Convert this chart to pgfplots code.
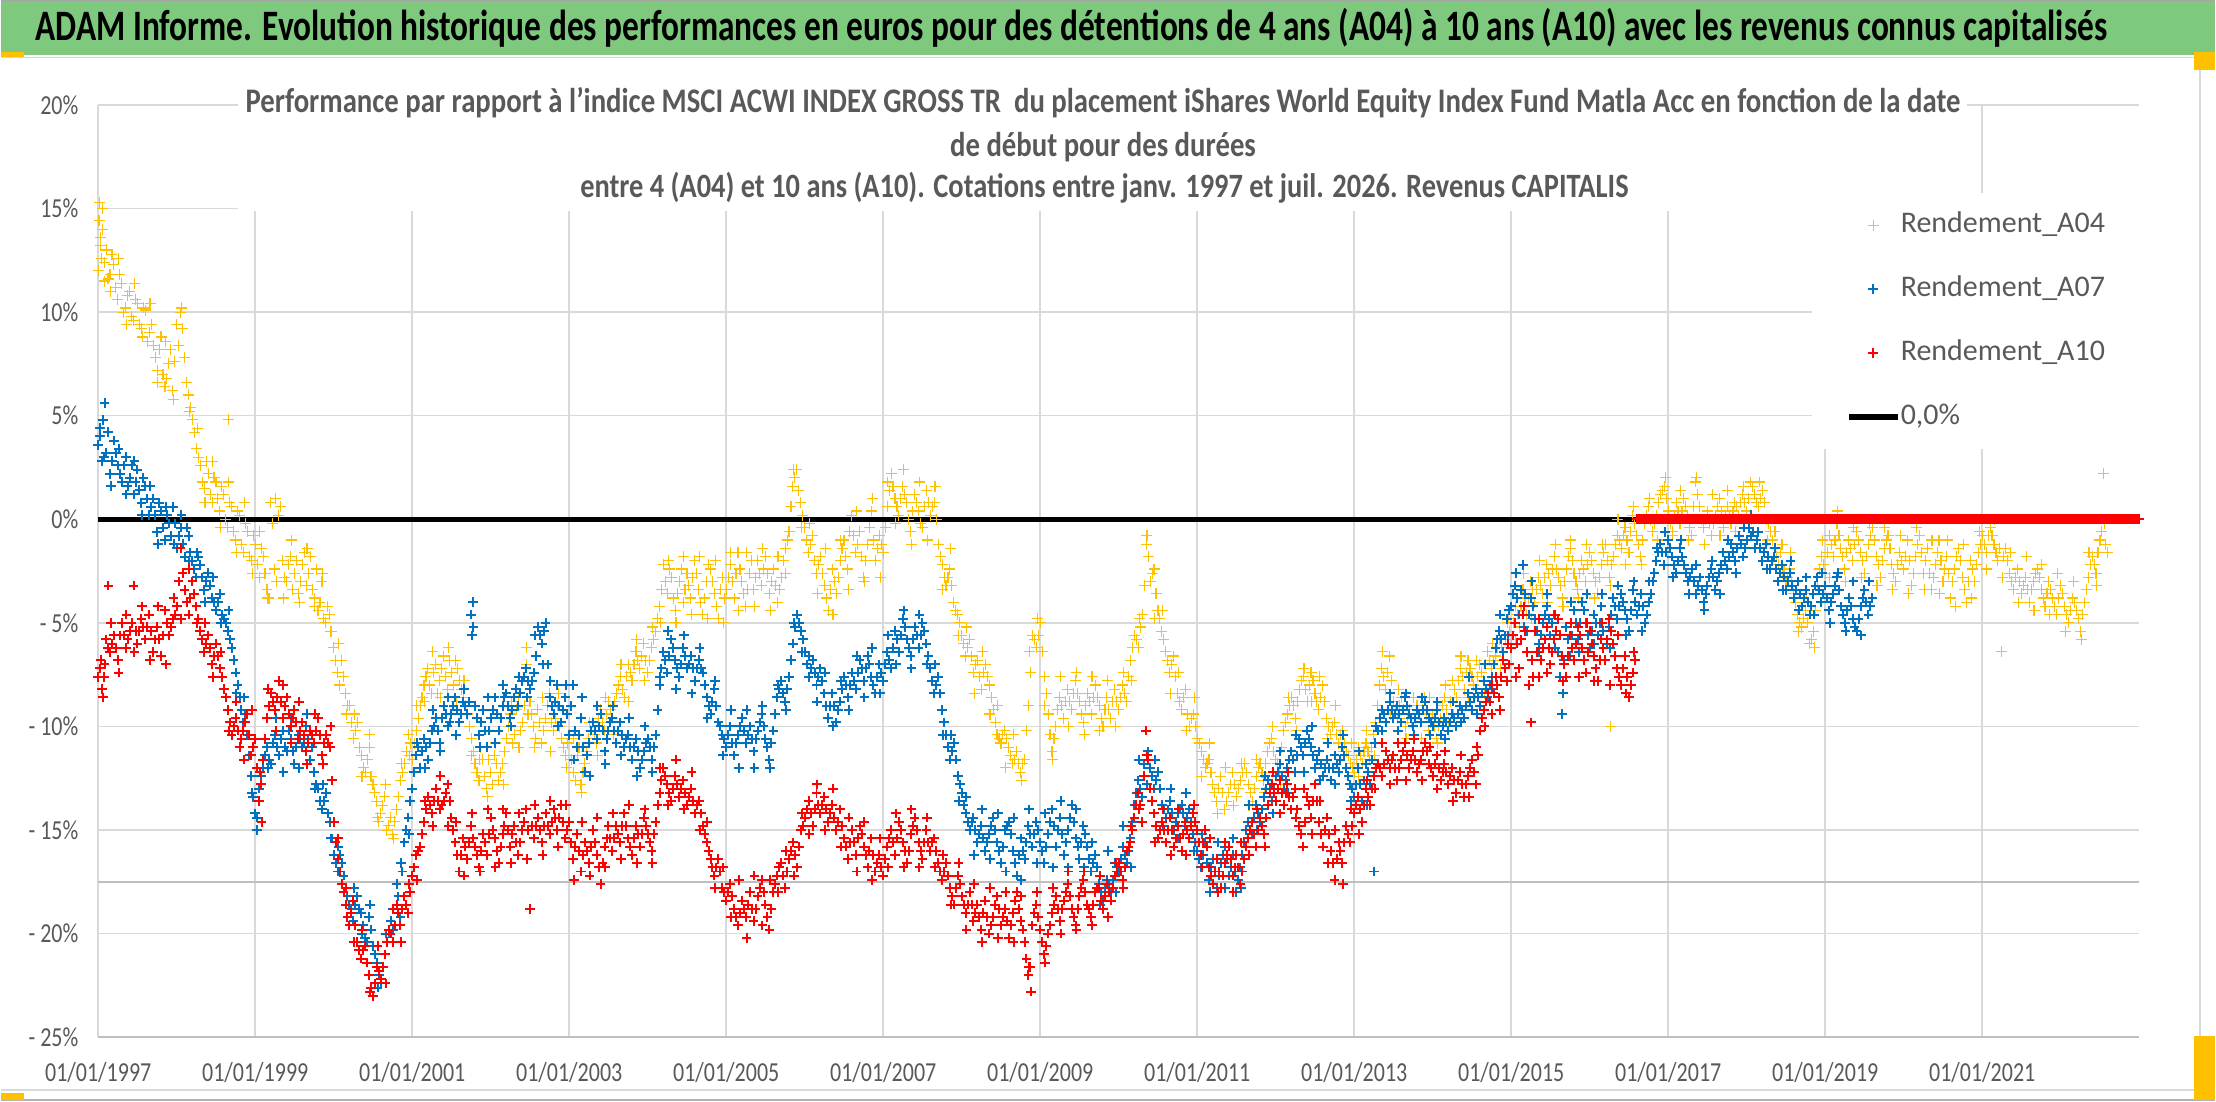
\documentclass[border=0pt]{standalone}
\usepackage{pgfplots}
\pgfplotsset{compat=1.18}
\usepackage{pgfplotstable}
\usepackage{graphicx}
\usepackage{fontspec}
\setmainfont{Carlito}
\definecolor{ygold}{HTML}{FFC000}
\definecolor{xblue}{HTML}{0070C0}
\definecolor{xred}{HTML}{FF0000}
\definecolor{txtgray}{HTML}{595959}
\definecolor{gridgray}{HTML}{D9D9D9}
\definecolor{axgray}{HTML}{BFBFBF}
\definecolor{banner}{HTML}{7EC97E}
\newcommand{\tl}[1]{\scalebox{1}[1.25]{#1}}

% t = years since 01/01/1997, y = performance in %
\pgfplotstableread[row sep=\\]{t y\\
0.00 12.0\\ 0.01 14.4\\ 0.02 15.3\\ 0.03 13.6\\ 0.04 12.6\\ 0.05 14.0\\ 0.08 11.5\\ 0.10 13.0\\ 0.15 11.8\\ 0.20 12.3\\
0.25 10.6\\ 0.30 11.4\\ 0.35 10.2\\ 0.40 11.0\\ 0.45 9.6\\ 0.50 10.4\\ 0.55 9.2\\ 0.60 10.1\\ 0.65 9.0\\ 0.70 8.4\\
0.75 7.2\\ 0.80 8.8\\ 0.85 6.4\\ 0.90 7.5\\ 0.95 6.2\\ 1.00 9.4\\ 1.05 10.0\\ 1.10 7.8\\ 1.15 6.0\\ 1.20 4.8\\
1.25 3.4\\ 1.30 2.6\\ 1.35 1.5\\ 1.40 2.2\\ 1.45 0.8\\ 1.50 1.8\\ 1.55 0.4\\ 1.60 1.2\\ 1.65 -0.4\\ 1.66 4.8\\
1.70 0.6\\ 1.75 -1.0\\ 1.80 0.2\\ 1.85 -1.6\\ 1.90 -0.6\\ 1.95 -2.0\\ 2.00 -1.2\\ 2.05 -2.8\\ 2.10 -1.8\\ 2.15 -3.4\\
2.20 0.8\\ 2.25 -2.4\\ 2.30 0.2\\ 2.35 -2.0\\ 2.40 -3.0\\ 2.45 -1.8\\ 2.50 -2.6\\ 2.55 -3.6\\ 2.60 -2.2\\ 2.65 -3.2\\
2.70 -1.8\\ 2.75 -3.8\\ 2.80 -4.4\\ 2.85 -3.0\\ 2.90 -5.0\\ 2.95 -4.6\\ 3.00 -6.2\\ 3.05 -7.4\\ 3.10 -6.8\\ 3.15 -8.4\\
3.20 -9.0\\ 3.25 -10.6\\ 3.30 -9.8\\ 3.35 -11.4\\ 3.40 -12.2\\ 3.45 -11.0\\ 3.50 -12.8\\ 3.55 -13.6\\ 3.60 -14.2\\ 3.65 -13.4\\
3.70 -14.8\\ 3.75 -15.2\\ 3.80 -14.0\\ 3.85 -12.6\\ 3.90 -11.8\\ 3.95 -10.4\\ 4.00 -11.6\\ 4.05 -10.2\\ 4.10 -9.0\\ 4.15 -8.0\\
4.20 -7.2\\ 4.25 -8.4\\ 4.30 -7.0\\ 4.35 -7.8\\ 4.40 -6.6\\ 4.45 -8.2\\ 4.50 -7.4\\ 4.55 -6.8\\ 4.60 -7.8\\ 4.65 -8.6\\
4.70 -9.4\\ 4.75 -10.6\\ 4.80 -11.8\\ 4.85 -12.6\\ 4.90 -11.6\\ 4.95 -13.0\\ 5.00 -12.2\\ 5.05 -11.4\\ 5.10 -12.6\\ 5.15 -11.8\\
5.20 -10.6\\ 5.25 -9.4\\ 5.30 -10.4\\ 5.35 -8.6\\ 5.40 -9.8\\ 5.45 -6.2\\ 5.50 -8.8\\ 5.55 -10.0\\ 5.60 -9.2\\ 5.65 -10.8\\
5.70 -9.6\\ 5.75 -8.4\\ 5.80 -10.2\\ 5.85 -9.0\\ 5.90 -10.6\\ 5.95 -11.4\\ 6.00 -10.4\\ 6.05 -12.2\\ 6.10 -11.4\\ 6.15 -12.8\\
6.20 -11.8\\ 6.25 -10.6\\ 6.30 -9.8\\ 6.35 -10.8\\ 6.40 -9.2\\ 6.45 -10.2\\ 6.50 -8.8\\ 6.55 -9.6\\ 6.60 -8.4\\ 6.65 -7.6\\
6.70 -8.6\\ 6.75 -7.0\\ 6.80 -7.8\\ 6.85 -6.4\\ 6.90 -7.2\\ 6.95 -6.0\\ 7.00 -7.4\\ 7.05 -6.2\\ 7.10 -5.4\\ 7.15 -4.2\\
7.20 -2.2\\ 7.25 -3.6\\ 7.30 -2.8\\ 7.35 -4.4\\ 7.40 -3.0\\ 7.45 -4.0\\ 7.50 -2.6\\ 7.55 -3.8\\ 7.60 -2.0\\ 7.65 -3.4\\
7.70 -4.6\\ 7.75 -3.0\\ 7.80 -2.4\\ 7.85 -3.6\\ 7.90 -4.8\\ 7.95 -2.8\\ 8.00 -3.4\\ 8.05 -2.2\\ 8.10 -3.8\\ 8.15 -1.6\\
8.20 -3.0\\ 8.25 -4.2\\ 8.30 -2.6\\ 8.35 -3.4\\ 8.40 -2.0\\ 8.45 -3.2\\ 8.50 -1.8\\ 8.55 -3.6\\ 8.60 -2.4\\ 8.65 -4.0\\
8.70 -2.8\\ 8.75 -1.4\\ 8.80 -0.6\\ 8.85 1.6\\ 8.90 2.4\\ 8.95 0.8\\ 9.00 -0.4\\ 9.05 -1.6\\ 9.10 -0.8\\ 9.15 -2.6\\
9.20 -1.8\\ 9.25 -3.2\\ 9.30 -4.4\\ 9.35 -2.4\\ 9.40 -3.6\\ 9.45 -2.0\\ 9.50 -1.0\\ 9.55 -2.4\\ 9.60 0.2\\ 9.65 -1.6\\
9.70 -0.6\\ 9.75 -2.8\\ 9.80 -1.2\\ 9.85 0.4\\ 9.90 -2.0\\ 9.95 -0.8\\ 10.00 -1.6\\ 10.05 0.6\\ 10.10 2.2\\ 10.15 1.0\\
10.20 0.2\\ 10.25 1.6\\ 10.30 0.8\\ 10.35 -0.6\\ 10.40 1.2\\ 10.45 0.4\\ 10.50 -0.4\\ 10.55 1.4\\ 10.60 0.2\\ 10.65 0.8\\
10.70 -1.2\\ 10.75 -2.2\\ 10.80 -3.2\\ 10.85 -2.4\\ 10.90 -4.0\\ 10.95 -4.6\\ 11.00 -5.6\\ 11.05 -6.6\\ 11.10 -5.8\\ 11.15 -7.4\\
11.20 -6.8\\ 11.25 -8.2\\ 11.30 -7.0\\ 11.35 -8.0\\ 11.40 -9.2\\ 11.45 -10.4\\ 11.50 -10.8\\ 11.55 -10.2\\ 11.60 -11.0\\ 11.65 -11.8\\
11.70 -11.2\\ 11.75 -12.2\\ 11.80 -11.6\\ 11.85 -9.0\\ 11.90 -5.6\\ 11.95 -6.2\\ 12.00 -5.0\\ 12.05 -7.6\\ 12.10 -9.4\\ 12.15 -11.2\\
12.20 -10.0\\ 12.25 -8.6\\ 12.30 -9.6\\ 12.35 -8.2\\ 12.40 -9.2\\ 12.45 -7.8\\ 12.50 -8.8\\ 12.55 -9.8\\ 12.60 -8.4\\ 12.65 -9.4\\
12.70 -8.0\\ 12.75 -9.0\\ 12.80 -10.0\\ 12.85 -8.6\\ 12.90 -9.6\\ 12.95 -8.2\\ 13.00 -9.2\\ 13.05 -8.0\\ 13.10 -8.8\\ 13.15 -6.8\\
13.20 -5.6\\ 13.25 -6.2\\ 13.30 -4.6\\ 13.35 -1.2\\ 13.40 -3.0\\ 13.45 -2.4\\ 13.50 -4.4\\ 13.55 -5.4\\ 13.60 -6.4\\ 13.65 -7.4\\
13.70 -6.6\\ 13.75 -8.4\\ 13.80 -9.2\\ 13.85 -8.2\\ 13.90 -10.0\\ 13.95 -9.4\\ 14.00 -10.6\\ 14.05 -11.2\\ 14.10 -12.0\\ 14.15 -11.6\\
14.20 -12.8\\ 14.25 -13.6\\ 14.30 -12.4\\ 14.35 -14.0\\ 14.40 -13.2\\ 14.45 -12.2\\ 14.50 -13.4\\ 14.55 -12.6\\ 14.60 -11.8\\ 14.65 -12.8\\
14.70 -13.6\\ 14.75 -12.4\\ 14.80 -11.8\\ 14.85 -12.6\\ 14.90 -11.2\\ 14.95 -10.6\\ 15.00 -11.6\\ 15.05 -12.2\\ 15.10 -10.2\\ 15.15 -9.4\\
15.20 -8.6\\ 15.25 -9.6\\ 15.30 -8.2\\ 15.35 -7.6\\ 15.40 -8.8\\ 15.45 -7.4\\ 15.50 -8.4\\ 15.55 -9.2\\ 15.60 -8.0\\ 15.65 -9.6\\
15.70 -10.4\\ 15.75 -9.8\\ 15.80 -10.8\\ 15.85 -10.2\\ 15.90 -11.2\\ 15.95 -11.8\\ 16.00 -12.2\\ 16.05 -11.0\\ 16.10 -11.8\\ 16.15 -10.8\\
16.20 -11.6\\ 16.25 -10.4\\ 16.30 -9.0\\ 16.35 -7.2\\ 16.40 -8.2\\ 16.45 -6.6\\ 16.50 -8.8\\ 16.55 -9.6\\ 16.60 -8.6\\ 16.65 -10.0\\
16.70 -9.2\\ 16.75 -10.4\\ 16.80 -9.0\\ 16.85 -9.8\\ 16.90 -8.6\\ 16.95 -10.2\\ 17.00 -9.4\\ 17.05 -10.6\\ 17.10 -9.6\\ 17.15 -8.6\\
17.20 -9.8\\ 17.25 -7.8\\ 17.30 -8.6\\ 17.35 -7.2\\ 17.40 -8.2\\ 17.45 -6.8\\ 17.50 -7.6\\ 17.55 -8.4\\ 17.60 -7.0\\ 17.65 -7.8\\
17.70 -6.4\\ 17.75 -7.2\\ 17.80 -6.6\\ 17.85 -5.8\\ 17.90 -6.8\\ 17.95 -5.0\\ 18.00 -5.8\\ 18.05 -4.2\\ 18.10 -5.2\\ 18.15 -3.4\\
18.20 -4.6\\ 18.25 -3.0\\ 18.30 -4.0\\ 18.35 -2.8\\ 18.40 -3.6\\ 18.45 -2.2\\ 18.50 -3.2\\ 18.55 -1.8\\ 18.60 -2.8\\ 18.65 -3.8\\
18.70 -2.4\\ 18.75 -1.4\\ 18.80 -2.6\\ 18.85 -3.4\\ 18.90 -2.0\\ 18.95 -3.0\\ 19.00 -1.6\\ 19.05 -2.6\\ 19.10 -3.6\\ 19.15 -2.2\\
19.20 -1.2\\ 19.25 -2.8\\ 19.26 -10.0\\ 19.30 -1.8\\ 19.35 -0.8\\ 19.40 -1.4\\ 19.45 -0.4\\ 19.50 -1.6\\ 19.55 0.2\\ 19.60 -0.8\\
19.65 -1.8\\ 19.70 -0.2\\ 19.75 0.6\\ 19.80 -0.6\\ 19.85 0.2\\ 19.90 1.2\\ 19.95 1.6\\ 20.00 0.4\\ 20.05 -0.6\\ 20.10 0.8\\
20.15 -0.2\\ 20.20 1.0\\ 20.25 0.2\\ 20.30 -0.8\\ 20.35 1.8\\ 20.40 0.6\\ 20.45 -0.4\\ 20.50 0.4\\ 20.55 -0.8\\ 20.60 0.2\\
20.65 1.0\\ 20.70 -0.4\\ 20.75 0.6\\ 20.80 -0.2\\ 20.85 0.8\\ 20.90 0.2\\ 20.95 1.2\\ 21.00 0.4\\ 21.05 1.8\\ 21.10 1.2\\
21.15 0.6\\ 21.20 1.4\\ 21.25 0.0\\ 21.30 -0.6\\ 21.35 -1.4\\ 21.40 -2.2\\ 21.45 -1.2\\ 21.50 -3.0\\ 21.55 -2.4\\ 21.60 -3.6\\
21.65 -4.6\\ 21.70 -5.2\\ 21.75 -4.4\\ 21.80 -6.0\\ 21.85 -5.4\\ 21.90 -3.2\\ 21.95 -1.8\\ 22.00 -2.6\\ 22.05 -0.8\\ 22.10 -1.8\\
22.15 -0.2\\ 22.20 -1.4\\ 22.25 -2.4\\ 22.30 -1.0\\ 22.35 -2.0\\ 22.40 -0.6\\ 22.45 -1.6\\ 22.50 -2.6\\ 22.55 -1.2\\ 22.60 -0.4\\
22.65 -1.8\\ 22.70 -2.8\\ 22.75 -1.4\\ 22.80 -0.8\\ 22.85 -2.2\\ 22.90 -3.0\\ 22.95 -1.6\\ 23.00 -2.4\\ 23.05 -1.0\\ 23.10 -3.2\\
23.15 -1.8\\ 23.20 -0.8\\ 23.25 -2.6\\ 23.30 -1.4\\ 23.35 -3.4\\ 23.40 -2.2\\ 23.45 -1.0\\ 23.50 -3.0\\ 23.55 -1.8\\ 23.60 -3.8\\
23.65 -2.4\\ 23.70 -1.4\\ 23.75 -2.8\\ 23.80 -4.0\\ 23.85 -2.0\\ 23.90 -3.0\\ 23.95 -1.6\\ 24.00 -0.8\\ 24.05 -1.6\\ 24.10 -0.4\\
24.15 -1.2\\ 24.20 -2.0\\ 24.25 -6.4\\ 24.30 -1.4\\ 24.35 -2.6\\ 24.40 -3.4\\ 24.45 -2.4\\ 24.50 -3.6\\ 24.55 -2.8\\ 24.60 -4.0\\
24.65 -3.0\\ 24.70 -2.4\\ 24.75 -3.4\\ 24.80 -4.2\\ 24.85 -3.0\\ 24.90 -3.8\\ 24.95 -4.6\\ 25.00 -3.2\\ 25.05 -4.2\\ 25.10 -5.0\\
25.15 -3.8\\ 25.20 -4.4\\ 25.25 -5.4\\ 25.30 -4.0\\ 25.35 -2.8\\ 25.40 -1.8\\ 25.45 -2.6\\ 25.50 -1.0\\ 25.55 2.2\\ 25.60 -1.6\\
0.025 13.2\\ 0.075 12.4\\ 0.125 11.6\\ 0.175 12.8\\ 0.225 11.2\\ 0.275 11.8\\ 0.325 10.0\\ 0.375 10.8\\ 0.425 9.8\\ 0.475 10.6\\
0.525 9.4\\ 0.575 10.2\\ 0.625 8.6\\ 0.675 9.4\\ 0.725 7.8\\ 0.775 8.2\\ 0.825 7.0\\ 0.875 6.8\\ 0.925 8.2\\ 0.975 7.6\\
1.025 8.4\\ 1.075 9.2\\ 1.125 6.6\\ 1.175 5.4\\ 1.225 4.2\\ 1.275 3.0\\ 1.325 1.8\\ 1.375 2.8\\ 1.425 1.2\\ 1.475 2.0\\
1.525 1.0\\ 1.575 1.6\\ 1.625 0.0\\ 1.675 0.8\\ 1.725 -0.6\\ 1.775 0.4\\ 1.825 -1.2\\ 1.875 -0.2\\ 1.925 -1.8\\ 1.975 -0.8\\
2.025 -2.2\\ 2.075 -1.4\\ 2.125 -2.6\\ 2.175 -3.8\\ 2.225 -0.2\\ 2.275 -3.0\\ 2.325 0.6\\ 2.375 -2.8\\ 2.425 -2.2\\ 2.475 -3.4\\
2.525 -2.0\\ 2.575 -3.0\\ 2.625 -1.6\\ 2.675 -2.6\\ 2.725 -3.4\\ 2.775 -2.4\\ 2.825 -4.0\\ 2.875 -4.8\\ 2.925 -4.2\\ 2.975 -5.4\\
3.025 -6.8\\ 3.075 -8.0\\ 3.125 -7.6\\ 3.175 -9.0\\ 3.225 -9.8\\ 3.275 -10.2\\ 3.325 -11.0\\ 3.375 -12.0\\ 3.425 -11.6\\ 3.475 -12.4\\
3.525 -13.2\\ 3.575 -14.6\\ 3.625 -13.8\\ 3.675 -15.0\\ 3.725 -14.4\\ 3.775 -14.6\\ 3.825 -13.4\\ 3.875 -12.2\\ 3.925 -11.2\\ 3.975 -10.8\\
4.025 -10.8\\ 4.075 -9.6\\ 4.125 -8.6\\ 4.175 -7.6\\ 4.225 -8.0\\ 4.275 -7.4\\ 4.325 -8.4\\ 4.375 -7.2\\ 4.425 -7.6\\ 4.475 -6.8\\
4.525 -8.0\\ 4.575 -7.2\\ 4.625 -8.2\\ 4.675 -9.0\\ 4.725 -10.0\\ 4.775 -11.2\\ 4.825 -12.2\\ 4.875 -11.0\\ 4.925 -12.4\\ 4.975 -11.6\\
5.025 -12.8\\ 5.075 -11.8\\ 5.125 -12.2\\ 5.175 -11.2\\ 5.225 -10.0\\ 5.275 -10.8\\ 5.325 -9.2\\ 5.375 -10.2\\ 5.425 -9.0\\ 5.475 -9.4\\
5.525 -9.4\\ 5.575 -10.6\\ 5.625 -9.8\\ 5.675 -10.2\\ 5.725 -9.0\\ 5.775 -9.8\\ 5.825 -9.6\\ 5.875 -10.0\\ 5.925 -11.0\\ 5.975 -10.8\\
6.025 -11.6\\ 6.075 -12.6\\ 6.125 -11.0\\ 6.175 -12.2\\ 6.225 -11.2\\ 6.275 -10.2\\ 6.325 -10.4\\ 6.375 -9.6\\ 6.425 -9.8\\ 6.475 -9.4\\
6.525 -9.2\\ 6.575 -8.8\\ 6.625 -8.0\\ 6.675 -8.2\\ 6.725 -7.6\\ 6.775 -7.4\\ 6.825 -7.0\\ 6.875 -6.8\\ 6.925 -6.6\\ 6.975 -6.8\\
7.025 -6.8\\ 7.075 -5.8\\ 7.125 -4.8\\ 7.175 -3.4\\ 7.225 -3.0\\ 7.275 -2.4\\ 7.325 -3.8\\ 7.375 -3.6\\ 7.425 -2.4\\ 7.475 -3.4\\
7.525 -3.2\\ 7.575 -2.8\\ 7.625 -2.6\\ 7.675 -4.0\\ 7.725 -3.8\\ 7.775 -2.2\\ 7.825 -3.0\\ 7.875 -4.2\\ 7.925 -3.4\\ 7.975 -3.8\\
8.025 -2.8\\ 8.075 -3.0\\ 8.125 -2.6\\ 8.175 -2.4\\ 8.225 -3.6\\ 8.275 -3.4\\ 8.325 -2.0\\ 8.375 -2.8\\ 8.425 -2.6\\ 8.475 -2.4\\
8.525 -2.6\\ 8.575 -3.0\\ 8.625 -3.2\\ 8.675 -3.4\\ 8.725 -2.0\\ 8.775 -1.0\\ 8.825 0.6\\ 8.875 2.0\\ 8.925 1.4\\ 8.975 0.2\\
9.025 -1.0\\ 9.075 -1.2\\ 9.125 -2.0\\ 9.175 -2.2\\ 9.225 -2.6\\ 9.275 -3.8\\ 9.325 -3.4\\ 9.375 -3.0\\ 9.425 -2.8\\ 9.475 -1.4\\
9.525 -1.8\\ 9.575 -0.6\\ 9.625 -0.8\\ 9.675 -1.2\\ 9.725 -1.8\\ 9.775 -2.0\\ 9.825 -0.4\\ 9.875 -1.0\\ 9.925 -1.4\\ 9.975 -1.2\\
10.025 -0.4\\ 10.075 1.4\\ 10.125 1.6\\ 10.175 0.6\\ 10.225 1.0\\ 10.275 1.2\\ 10.325 0.0\\ 10.375 0.4\\ 10.425 0.8\\ 10.475 -0.2\\
10.525 0.6\\ 10.575 0.8\\ 10.625 0.6\\ 10.675 0.0\\ 10.725 -1.8\\ 10.775 -2.8\\ 10.825 -2.8\\ 10.875 -3.2\\ 10.925 -4.4\\ 10.975 -5.0\\
11.025 -6.0\\ 11.075 -6.2\\ 11.125 -6.6\\ 11.175 -7.0\\ 11.225 -7.6\\ 11.275 -7.4\\ 11.325 -7.6\\ 11.375 -8.6\\ 11.425 -9.8\\ 11.475 -10.6\\
11.525 -10.4\\ 11.575 -10.6\\ 11.625 -11.4\\ 11.675 -11.6\\ 11.725 -11.8\\ 11.775 -11.8\\ 11.825 -10.2\\ 11.875 -7.4\\ 11.925 -5.8\\ 11.975 -5.6\\
12.025 -6.4\\ 12.075 -8.4\\ 12.125 -10.4\\ 12.175 -10.6\\ 12.225 -9.2\\ 12.275 -9.0\\ 12.325 -8.8\\ 12.375 -8.8\\ 12.425 -8.4\\ 12.475 -8.4\\
12.525 -9.4\\ 12.575 -9.0\\ 12.625 -8.8\\ 12.675 -8.6\\ 12.725 -8.6\\ 12.775 -9.6\\ 12.825 -9.2\\ 12.875 -9.2\\ 12.925 -8.8\\ 12.975 -8.8\\
13.025 -8.6\\ 13.075 -8.4\\ 13.125 -7.6\\ 13.175 -6.2\\ 13.225 -5.8\\ 13.275 -5.2\\ 13.325 -3.2\\ 13.375 -1.8\\ 13.425 -2.6\\ 13.475 -3.6\\
13.525 -4.8\\ 13.575 -5.8\\ 13.625 -6.8\\ 13.675 -7.0\\ 13.725 -7.6\\ 13.775 -8.8\\ 13.825 -8.6\\ 13.875 -9.4\\ 13.925 -9.6\\ 13.975 -10.0\\
14.025 -10.8\\ 14.075 -11.6\\ 14.125 -11.8\\ 14.175 -12.2\\ 14.225 -13.2\\ 14.275 -13.0\\ 14.325 -13.2\\ 14.375 -13.6\\ 14.425 -12.8\\ 14.475 -12.8\\
14.525 -13.0\\ 14.575 -12.2\\ 14.625 -12.2\\ 14.675 -13.2\\ 14.725 -13.0\\ 14.775 -12.0\\ 14.825 -12.2\\ 14.875 -11.8\\ 14.925 -10.8\\ 14.975 -11.2\\
15.025 -11.8\\ 15.075 -11.0\\ 15.125 -9.8\\ 15.175 -9.0\\ 15.225 -9.0\\ 15.275 -8.8\\ 15.325 -7.8\\ 15.375 -8.2\\ 15.425 -8.0\\ 15.475 -7.8\\
15.525 -8.8\\ 15.575 -8.6\\ 15.625 -8.8\\ 15.675 -10.0\\ 15.725 -10.0\\ 15.775 -10.4\\ 15.825 -10.4\\ 15.875 -10.8\\ 15.925 -11.4\\ 15.975 -12.0\\
16.025 -11.6\\ 16.075 -11.4\\ 16.125 -11.2\\ 16.175 -11.2\\ 16.225 -11.0\\ 16.275 -9.8\\ 16.325 -8.0\\ 16.375 -7.6\\ 16.425 -7.4\\ 16.475 -7.8\\
16.525 -9.2\\ 16.575 -9.0\\ 16.625 -9.2\\ 16.675 -9.6\\ 16.725 -9.8\\ 16.775 -9.6\\ 16.825 -9.4\\ 16.875 -9.2\\ 16.925 -9.4\\ 16.975 -9.8\\
17.025 -10.0\\ 17.075 -10.0\\ 17.125 -9.0\\ 17.175 -9.2\\ 17.225 -8.8\\ 17.275 -8.2\\ 17.325 -7.8\\ 17.375 -7.6\\ 17.425 -7.4\\ 17.475 -7.2\\
17.525 -8.0\\ 17.575 -7.6\\ 17.625 -7.4\\ 17.675 -7.0\\ 17.725 -6.8\\ 17.775 -6.8\\ 17.825 -6.2\\ 17.875 -6.2\\ 17.925 -5.8\\ 17.975 -5.4\\
18.025 -5.0\\ 18.075 -4.6\\ 18.125 -4.2\\ 18.175 -3.8\\ 18.225 -3.8\\ 18.275 -3.4\\ 18.325 -3.4\\ 18.375 -3.2\\ 18.425 -2.8\\ 18.475 -2.6\\
18.525 -2.4\\ 18.575 -2.4\\ 18.625 -3.2\\ 18.675 -3.0\\ 18.725 -1.8\\ 18.775 -2.0\\ 18.825 -3.0\\ 18.875 -2.6\\ 18.925 -2.4\\ 18.975 -2.2\\
19.025 -2.0\\ 19.075 -3.0\\ 19.125 -2.8\\ 19.175 -1.6\\ 19.225 -2.0\\ 19.275 -2.2\\ 19.325 -1.2\\ 19.375 -1.0\\ 19.425 -0.8\\ 19.475 -1.0\\
19.525 -0.6\\ 19.575 -0.2\\ 19.625 -1.2\\ 19.675 -1.0\\ 19.725 0.2\\ 19.775 0.0\\ 19.825 -0.2\\ 19.875 0.8\\ 19.925 1.4\\ 19.975 1.0\\
20.025 -0.2\\ 20.075 0.2\\ 20.125 0.4\\ 20.175 0.4\\ 20.225 0.6\\ 20.275 -0.4\\ 20.325 0.6\\ 20.375 1.2\\ 20.425 0.0\\ 20.475 0.0\\
20.525 -0.2\\ 20.575 -0.2\\ 20.625 0.6\\ 20.675 0.4\\ 20.725 0.2\\ 20.775 0.2\\ 20.825 0.4\\ 20.875 0.6\\ 20.925 0.8\\ 20.975 0.8\\
21.025 1.0\\ 21.075 1.6\\ 21.125 0.8\\ 21.175 1.0\\ 21.225 0.8\\ 21.275 -0.2\\ 21.325 -1.0\\ 21.375 -1.8\\ 21.425 -1.6\\ 21.475 -2.4\\
21.525 -2.8\\ 21.575 -3.0\\ 21.625 -4.0\\ 21.675 -5.0\\ 21.725 -4.8\\ 21.775 -5.0\\ 21.825 -5.8\\ 21.875 -4.4\\ 21.925 -2.4\\ 21.975 -2.2\\
22.025 -1.6\\ 22.075 -1.2\\ 22.125 -1.0\\ 22.175 -0.8\\ 22.225 -1.8\\ 22.275 -1.6\\ 22.325 -1.4\\ 22.375 -1.2\\ 22.425 -1.0\\ 22.475 -2.0\\
22.525 -1.8\\ 22.575 -0.8\\ 22.625 -1.0\\ 22.675 -2.2\\ 22.725 -2.0\\ 22.775 -1.0\\ 22.825 -1.4\\ 22.875 -2.6\\ 22.925 -2.2\\ 22.975 -2.0\\
23.025 -1.8\\ 23.075 -2.0\\ 23.125 -2.6\\ 23.175 -1.2\\ 23.225 -1.6\\ 23.275 -2.0\\ 23.325 -2.6\\ 23.375 -2.8\\ 23.425 -1.6\\ 23.475 -2.0\\
23.525 -2.4\\ 23.575 -2.6\\ 23.625 -3.0\\ 23.675 -1.8\\ 23.725 -2.0\\ 23.775 -3.4\\ 23.825 -3.0\\ 23.875 -2.4\\ 23.925 -2.2\\ 23.975 -1.2\\
24.025 -1.2\\ 24.075 -0.8\\ 24.125 -0.8\\ 24.175 -1.6\\ 24.225 -1.4\\ 24.275 -1.8\\ 24.325 -2.0\\ 24.375 -3.0\\ 24.425 -2.8\\ 24.475 -3.0\\
24.525 -3.2\\ 24.575 -3.4\\ 24.625 -3.4\\ 24.675 -2.6\\ 24.725 -2.8\\ 24.775 -3.8\\ 24.825 -3.6\\ 24.875 -3.4\\ 24.925 -4.2\\ 24.975 -3.8\\
25.025 -3.6\\ 25.075 -4.6\\ 25.125 -4.4\\ 25.175 -4.0\\ 25.225 -4.8\\ 25.275 -4.6\\ 25.325 -3.4\\ 25.375 -2.2\\ 25.425 -2.2\\ 25.475 -1.6\\
25.525 -0.6\\ 25.575 -1.2\\
0.06 15.0\\ 0.16 11.0\\ 0.26 12.6\\ 0.36 9.4\\ 0.46 11.4\\ 0.56 8.8\\ 0.66 10.4\\ 0.76 6.6\\ 0.86 8.6\\ 0.96 5.8\\
1.06 10.2\\ 1.16 5.2\\ 1.26 4.4\\ 1.36 0.8\\ 1.46 2.8\\ 1.56 -0.4\\ 1.66 1.8\\ 1.76 -1.6\\ 1.86 0.8\\ 1.96 -2.6\\
2.06 -0.6\\ 2.16 -3.8\\ 2.26 1.0\\ 2.36 -3.8\\ 2.46 -1.0\\ 2.56 -4.0\\ 2.66 -1.4\\ 2.76 -4.2\\ 2.86 -2.6\\ 2.96 -5.4\\
3.06 -6.0\\ 3.16 -9.4\\ 3.26 -9.4\\ 3.36 -12.4\\ 3.46 -10.4\\ 3.56 -14.4\\ 3.66 -12.8\\ 3.76 -15.4\\ 3.86 -11.8\\ 3.96 -11.4\\
4.06 -9.0\\ 4.16 -8.8\\ 4.26 -6.4\\ 4.36 -8.6\\ 4.46 -6.2\\ 4.56 -8.8\\ 4.66 -7.8\\ 4.76 -11.4\\ 4.86 -11.6\\ 4.96 -13.4\\
5.06 -10.8\\ 5.16 -12.8\\ 5.26 -8.8\\ 5.36 -11.0\\ 5.46 -7.0\\ 5.56 -11.0\\ 5.66 -8.6\\ 5.76 -11.2\\ 5.86 -8.4\\ 5.96 -12.0\\
6.06 -10.6\\ 6.16 -13.2\\ 6.26 -9.8\\ 6.36 -11.4\\ 6.46 -8.6\\ 6.56 -10.4\\ 6.66 -7.0\\ 6.76 -8.8\\ 6.86 -5.8\\ 6.96 -7.8\\
7.06 -5.2\\ 7.16 -5.0\\ 7.26 -2.0\\ 7.36 -5.0\\ 7.46 -1.8\\ 7.56 -4.6\\ 7.66 -1.8\\ 7.76 -4.8\\ 7.86 -2.0\\ 7.96 -5.0\\
8.06 -1.6\\ 8.16 -4.4\\ 8.26 -1.6\\ 8.36 -4.2\\ 8.46 -1.4\\ 8.56 -4.4\\ 8.66 -1.8\\ 8.76 -2.6\\ 8.86 2.4\\ 8.96 -0.4\\
9.06 -0.2\\ 9.16 -3.6\\ 9.26 -1.4\\ 9.36 -4.6\\ 9.46 -1.0\\ 9.56 -3.4\\ 9.66 0.4\\ 9.76 -3.0\\ 9.86 1.0\\ 9.96 -2.8\\
10.06 1.8\\ 10.16 -0.2\\ 10.26 2.4\\ 10.36 -1.2\\ 10.46 1.8\\ 10.56 -1.0\\ 10.66 1.6\\ 10.76 -3.4\\ 10.86 -1.4\\ 10.96 -5.6\\
11.06 -5.2\\ 11.16 -8.4\\ 11.26 -6.4\\ 11.36 -9.4\\ 11.46 -9.0\\ 11.56 -12.0\\ 11.66 -10.4\\ 11.76 -12.6\\ 11.86 -6.4\\ 11.96 -4.8\\
12.06 -9.0\\ 12.16 -11.6\\ 12.26 -7.6\\ 12.36 -10.0\\ 12.46 -7.4\\ 12.56 -10.4\\ 12.66 -7.6\\ 12.76 -10.2\\ 12.86 -7.8\\ 12.96 -10.0\\
13.06 -7.4\\ 13.16 -7.8\\ 13.26 -4.8\\ 13.36 -0.8\\ 13.46 -4.8\\ 13.56 -4.4\\ 13.66 -8.4\\ 13.76 -7.4\\ 13.86 -10.2\\ 13.96 -8.6\\
14.06 -12.4\\ 14.16 -10.8\\ 14.26 -14.2\\ 14.36 -12.0\\ 14.46 -13.8\\ 14.56 -11.8\\ 14.66 -13.8\\ 14.76 -11.6\\ 14.86 -13.2\\ 14.96 -10.0\\
15.06 -12.8\\ 15.16 -8.6\\ 15.26 -10.2\\ 15.36 -7.2\\ 15.46 -8.8\\ 15.56 -7.6\\ 15.66 -10.6\\ 15.76 -9.0\\ 15.86 -11.2\\ 15.96 -10.8\\
16.06 -12.4\\ 16.16 -10.2\\ 16.26 -11.4\\ 16.36 -6.4\\ 16.46 -9.4\\ 16.56 -8.2\\ 16.66 -10.6\\ 16.76 -8.6\\ 16.86 -10.6\\ 16.96 -8.6\\
17.06 -10.8\\ 17.16 -8.0\\ 17.26 -9.4\\ 17.36 -6.6\\ 17.46 -8.6\\ 17.56 -6.8\\ 17.66 -8.4\\ 17.76 -6.0\\ 17.86 -7.2\\ 17.96 -4.8\\
18.06 -5.8\\ 18.16 -2.6\\ 18.26 -4.8\\ 18.36 -2.0\\ 18.46 -4.0\\ 18.56 -1.2\\ 18.66 -4.2\\ 18.76 -1.0\\ 18.86 -3.8\\ 18.96 -1.2\\
19.06 -3.8\\ 19.16 -1.2\\ 19.26 -3.2\\ 19.36 0.0\\ 19.46 -2.2\\ 19.56 0.6\\ 19.66 -2.2\\ 19.76 1.0\\ 19.86 -1.0\\ 19.96 2.0\\
20.06 -0.8\\ 20.16 1.4\\ 20.26 -1.0\\ 20.36 2.0\\ 20.46 -1.2\\ 20.56 1.2\\ 20.66 -0.8\\ 20.76 1.4\\ 20.86 -0.6\\ 20.96 1.6\\
21.06 0.0\\ 21.16 1.8\\ 21.26 -1.0\\ 21.36 -0.6\\ 21.46 -2.6\\ 21.56 -1.6\\ 21.66 -5.4\\ 21.76 -3.6\\ 21.86 -6.2\\ 21.96 -1.0\\
22.06 -2.8\\ 22.16 0.4\\ 22.26 -3.0\\ 22.36 -0.4\\ 22.46 -2.8\\ 22.56 -0.2\\ 22.66 -3.2\\ 22.76 -0.4\\ 22.86 -3.4\\ 22.96 -0.8\\
23.06 -3.6\\ 23.16 -0.4\\ 23.26 -3.4\\ 23.36 -1.0\\ 23.46 -3.6\\ 23.56 -1.0\\ 23.66 -4.2\\ 23.76 -1.2\\ 23.86 -3.8\\ 23.96 -0.6\\
24.06 -2.4\\ 24.16 0.0\\ 24.26 -2.8\\ 24.36 -1.6\\ 24.46 -4.0\\ 24.56 -1.8\\ 24.66 -4.4\\ 24.76 -2.2\\ 24.86 -4.6\\ 24.96 -2.6\\
25.06 -5.4\\ 25.16 -3.0\\ 25.26 -5.8\\ 25.36 -1.6\\ 25.46 -3.2\\ 25.56 -0.2\\
}\dA

\pgfplotstableread[row sep=\\]{t y\\
0.00 3.6\\ 0.02 4.4\\ 0.05 2.8\\ 0.08 5.6\\ 0.10 3.2\\ 0.15 2.2\\ 0.20 3.8\\ 0.25 2.6\\ 0.30 1.8\\ 0.35 3.0\\
0.40 2.0\\ 0.45 1.2\\ 0.50 2.4\\ 0.55 0.8\\ 0.60 1.6\\ 0.65 0.2\\ 0.70 1.0\\ 0.75 -0.6\\ 0.80 0.4\\ 0.85 -1.0\\
0.90 -0.2\\ 0.95 0.6\\ 1.00 -1.4\\ 1.05 -0.4\\ 1.10 -1.8\\ 1.15 -0.8\\ 1.20 -2.0\\ 1.25 -2.8\\ 1.30 -2.2\\ 1.35 -3.4\\
1.40 -2.6\\ 1.45 -3.8\\ 1.50 -4.4\\ 1.55 -3.6\\ 1.60 -4.8\\ 1.65 -5.4\\ 1.70 -6.2\\ 1.75 -7.4\\ 1.80 -8.6\\ 1.85 -9.8\\
1.90 -10.4\\ 1.95 -12.4\\ 2.00 -14.2\\ 2.02 -15.0\\ 2.05 -13.0\\ 2.10 -12.0\\ 2.15 -11.0\\ 2.20 -11.8\\ 2.25 -10.4\\ 2.30 -11.4\\
2.35 -10.2\\ 2.40 -11.2\\ 2.45 -10.6\\ 2.50 -11.8\\ 2.55 -10.4\\ 2.60 -11.0\\ 2.65 -10.0\\ 2.70 -11.6\\ 2.75 -12.2\\ 2.80 -13.0\\
2.85 -14.0\\ 2.90 -13.2\\ 2.95 -14.6\\ 3.00 -16.2\\ 3.05 -17.0\\ 3.10 -16.6\\ 3.15 -17.8\\ 3.20 -18.6\\ 3.25 -19.4\\ 3.30 -18.2\\
3.35 -19.0\\ 3.40 -20.2\\ 3.45 -19.2\\ 3.50 -20.6\\ 3.55 -21.4\\ 3.60 -22.4\\ 3.65 -21.0\\ 3.70 -20.0\\ 3.75 -18.8\\ 3.80 -17.6\\
3.85 -19.2\\ 3.90 -15.6\\ 3.95 -14.4\\ 4.00 -13.0\\ 4.05 -11.4\\ 4.10 -12.0\\ 4.15 -10.6\\ 4.20 -11.6\\ 4.25 -10.2\\ 4.30 -9.6\\
4.35 -10.8\\ 4.40 -9.0\\ 4.45 -10.0\\ 4.50 -9.4\\ 4.55 -8.6\\ 4.60 -9.8\\ 4.65 -8.8\\ 4.70 -9.4\\ 4.75 -4.6\\ 4.78 -5.2\\
4.80 -9.0\\ 4.85 -10.4\\ 4.90 -9.2\\ 4.95 -11.0\\ 5.00 -9.6\\ 5.05 -8.6\\ 5.10 -10.2\\ 5.15 -9.0\\ 5.20 -8.4\\ 5.25 -9.6\\
5.30 -8.6\\ 5.35 -9.0\\ 5.40 -7.8\\ 5.45 -7.2\\ 5.50 -8.2\\ 5.55 -7.4\\ 5.60 -5.2\\ 5.65 -6.0\\ 5.70 -5.0\\ 5.75 -8.6\\
5.80 -9.4\\ 5.85 -8.0\\ 5.90 -9.8\\ 5.95 -8.6\\ 6.00 -10.4\\ 6.05 -8.0\\ 6.10 -11.0\\ 6.15 -9.6\\ 6.20 -12.2\\ 6.25 -10.8\\
6.30 -9.8\\ 6.35 -10.6\\ 6.40 -9.4\\ 6.45 -11.2\\ 6.50 -10.2\\ 6.55 -9.6\\ 6.60 -10.8\\ 6.65 -9.8\\ 6.70 -11.0\\ 6.75 -10.4\\
6.80 -11.6\\ 6.85 -10.6\\ 6.90 -12.0\\ 6.95 -11.2\\ 7.00 -10.6\\ 7.05 -11.6\\ 7.10 -10.4\\ 7.15 -8.0\\ 7.20 -6.4\\ 7.25 -7.4\\
7.30 -5.8\\ 7.35 -6.8\\ 7.40 -7.6\\ 7.45 -6.2\\ 7.50 -7.2\\ 7.55 -6.6\\ 7.60 -7.8\\ 7.65 -6.8\\ 7.70 -7.4\\ 7.75 -8.6\\
7.80 -9.4\\ 7.85 -8.2\\ 7.90 -9.8\\ 7.95 -10.4\\ 8.00 -11.0\\ 8.05 -10.0\\ 8.10 -11.4\\ 8.15 -10.4\\ 8.20 -9.6\\ 8.25 -10.8\\
8.30 -10.0\\ 8.35 -11.2\\ 8.40 -10.2\\ 8.45 -9.4\\ 8.50 -10.6\\ 8.55 -11.6\\ 8.60 -10.2\\ 8.65 -8.6\\ 8.70 -7.8\\ 8.75 -8.8\\
8.80 -7.6\\ 8.85 -6.0\\ 8.90 -4.6\\ 8.95 -5.4\\ 9.00 -6.4\\ 9.05 -7.6\\ 9.10 -6.8\\ 9.15 -8.0\\ 9.20 -7.2\\ 9.25 -8.4\\
9.30 -9.6\\ 9.35 -8.4\\ 9.40 -9.8\\ 9.45 -8.8\\ 9.50 -7.6\\ 9.55 -8.6\\ 9.60 -7.4\\ 9.65 -8.2\\ 9.70 -6.8\\ 9.75 -7.8\\
9.80 -6.6\\ 9.85 -7.6\\ 9.90 -8.4\\ 9.95 -7.0\\ 10.00 -7.8\\ 10.05 -6.4\\ 10.10 -7.2\\ 10.15 -5.4\\ 10.20 -6.4\\ 10.25 -4.8\\
10.30 -5.8\\ 10.35 -6.6\\ 10.40 -5.2\\ 10.45 -6.2\\ 10.50 -5.0\\ 10.55 -6.0\\ 10.60 -7.2\\ 10.65 -8.4\\ 10.70 -7.6\\ 10.75 -9.2\\
10.80 -10.4\\ 10.85 -11.6\\ 10.90 -10.8\\ 10.95 -12.4\\ 11.00 -13.2\\ 11.05 -14.2\\ 11.10 -15.0\\ 11.15 -14.4\\ 11.20 -15.6\\ 11.25 -14.8\\
11.30 -16.0\\ 11.35 -15.2\\ 11.40 -14.4\\ 11.45 -15.6\\ 11.50 -16.6\\ 11.55 -15.0\\ 11.60 -14.6\\ 11.65 -16.0\\ 11.70 -17.2\\ 11.75 -15.4\\
11.80 -16.4\\ 11.85 -14.8\\ 11.90 -15.8\\ 11.95 -14.6\\ 12.00 -15.6\\ 12.05 -16.6\\ 12.10 -15.2\\ 12.15 -14.0\\ 12.20 -15.8\\ 12.25 -14.4\\
12.30 -16.2\\ 12.35 -15.0\\ 12.40 -13.8\\ 12.45 -15.4\\ 12.50 -16.4\\ 12.55 -14.8\\ 12.60 -15.8\\ 12.65 -17.0\\ 12.70 -16.2\\ 12.75 -17.6\\
12.80 -18.4\\ 12.85 -17.4\\ 12.90 -18.0\\ 12.95 -16.6\\ 13.00 -17.0\\ 13.05 -15.8\\ 13.10 -16.6\\ 13.15 -15.4\\ 13.20 -13.8\\ 13.25 -12.6\\
13.30 -13.4\\ 13.35 -10.2\\ 13.40 -12.0\\ 13.45 -13.0\\ 13.50 -12.2\\ 13.55 -13.8\\ 13.60 -14.4\\ 13.65 -13.6\\ 13.70 -15.0\\ 13.75 -14.2\\
13.80 -13.8\\ 13.85 -14.8\\ 13.90 -14.0\\ 13.95 -15.2\\ 14.00 -16.0\\ 14.05 -16.8\\ 14.10 -15.6\\ 14.15 -17.4\\ 14.20 -16.4\\ 14.25 -17.8\\
14.30 -16.6\\ 14.35 -15.8\\ 14.40 -17.2\\ 14.45 -16.2\\ 14.50 -18.0\\ 14.55 -16.8\\ 14.60 -15.6\\ 14.65 -14.6\\ 14.70 -15.2\\ 14.75 -13.8\\
14.80 -14.6\\ 14.85 -13.4\\ 14.90 -12.6\\ 14.95 -13.6\\ 15.00 -12.4\\ 15.05 -11.8\\ 15.10 -13.0\\ 15.15 -12.0\\ 15.20 -11.2\\ 15.25 -12.2\\
15.30 -10.6\\ 15.35 -11.4\\ 15.40 -10.2\\ 15.45 -11.0\\ 15.50 -12.0\\ 15.55 -11.2\\ 15.60 -12.4\\ 15.65 -11.6\\ 15.70 -12.6\\ 15.75 -11.4\\
15.80 -12.2\\ 15.85 -11.0\\ 15.90 -12.0\\ 15.95 -12.8\\ 16.00 -13.4\\ 16.05 -12.0\\ 16.10 -13.6\\ 16.15 -11.8\\ 16.20 -12.8\\ 16.25 -17.0\\
16.30 -10.2\\ 16.35 -9.2\\ 16.40 -9.8\\ 16.45 -8.8\\ 16.50 -9.6\\ 16.55 -9.0\\ 16.60 -9.8\\ 16.65 -8.6\\ 16.70 -9.4\\ 16.75 -10.0\\
16.80 -9.2\\ 16.85 -9.8\\ 16.90 -8.8\\ 16.95 -9.6\\ 17.00 -10.0\\ 17.05 -9.2\\ 17.10 -10.4\\ 17.15 -9.6\\ 17.20 -10.2\\ 17.25 -9.4\\
17.30 -10.0\\ 17.35 -9.0\\ 17.40 -9.6\\ 17.45 -8.4\\ 17.50 -9.2\\ 17.55 -8.2\\ 17.60 -9.0\\ 17.65 -7.8\\ 17.70 -8.6\\ 17.75 -7.6\\
17.80 -6.2\\ 17.85 -5.4\\ 17.90 -6.4\\ 17.95 -4.8\\ 18.00 -4.2\\ 18.05 -3.2\\ 18.10 -4.6\\ 18.15 -2.2\\ 18.20 -5.4\\ 18.25 -3.8\\
18.30 -4.8\\ 18.35 -6.0\\ 18.40 -5.0\\ 18.45 -4.2\\ 18.50 -5.6\\ 18.55 -4.6\\ 18.60 -6.4\\ 18.65 -9.4\\ 18.70 -5.2\\ 18.75 -6.6\\
18.80 -4.4\\ 18.85 -5.8\\ 18.90 -4.0\\ 18.95 -5.0\\ 19.00 -6.2\\ 19.05 -4.6\\ 19.10 -5.6\\ 19.15 -4.2\\ 19.20 -6.8\\ 19.25 -5.2\\
19.30 -3.8\\ 19.35 -4.8\\ 19.40 -3.6\\ 19.45 -4.4\\ 19.50 -5.4\\ 19.55 -3.4\\ 19.60 -4.6\\ 19.65 -3.6\\ 19.70 -5.0\\ 19.75 -4.0\\
19.80 -3.0\\ 19.85 -2.0\\ 19.90 -1.2\\ 19.95 -2.2\\ 20.00 -1.0\\ 20.05 -1.8\\ 20.10 -2.6\\ 20.15 -1.4\\ 20.20 -2.2\\ 20.25 -3.0\\
20.30 -2.4\\ 20.35 -3.6\\ 20.40 -2.8\\ 20.45 -4.0\\ 20.50 -3.2\\ 20.55 -2.4\\ 20.60 -3.4\\ 20.65 -2.6\\ 20.70 -1.6\\ 20.75 -2.4\\
20.80 -1.2\\ 20.85 -2.0\\ 20.90 -0.8\\ 20.95 -1.8\\ 21.00 -1.0\\ 21.05 0.2\\ 21.10 -1.4\\ 21.15 -0.6\\ 21.20 -2.0\\ 21.25 -1.2\\
21.30 -2.4\\ 21.35 -1.8\\ 21.40 -3.0\\ 21.45 -2.2\\ 21.50 -3.4\\ 21.55 -2.6\\ 21.60 -3.8\\ 21.65 -3.0\\ 21.70 -4.2\\ 21.75 -3.4\\
21.80 -4.6\\ 21.85 -3.6\\ 21.90 -2.8\\ 21.95 -4.0\\ 22.00 -3.2\\ 22.05 -4.4\\ 22.10 -3.6\\ 22.15 -2.8\\ 22.20 -4.2\\ 22.25 -5.0\\
22.30 -3.8\\ 22.35 -4.8\\ 22.40 -5.4\\ 22.45 -4.2\\ 22.50 -3.4\\ 22.55 -4.6\\ 22.60 -3.8\\
0.025 4.0\\ 0.075 3.0\\ 0.125 4.2\\ 0.175 2.8\\ 0.225 3.2\\ 0.275 2.2\\ 0.325 2.6\\ 0.375 1.6\\ 0.425 2.6\\ 0.475 1.8\\
0.525 1.4\\ 0.575 2.0\\ 0.625 1.0\\ 0.675 0.6\\ 0.725 0.2\\ 0.775 0.8\\ 0.825 -0.4\\ 0.875 0.2\\ 0.925 -0.8\\ 0.975 -0.2\\
1.025 -0.8\\ 1.075 -1.2\\ 1.125 -0.4\\ 1.175 -1.6\\ 1.225 -2.4\\ 1.275 -1.8\\ 1.325 -2.8\\ 1.375 -3.0\\ 1.425 -3.2\\ 1.475 -4.0\\
1.525 -4.0\\ 1.575 -4.6\\ 1.625 -5.0\\ 1.675 -5.8\\ 1.725 -6.8\\ 1.775 -8.0\\ 1.825 -9.2\\ 1.875 -9.4\\ 1.925 -11.4\\ 1.975 -13.4\\
2.025 -14.4\\ 2.075 -12.4\\ 2.125 -11.4\\ 2.175 -11.6\\ 2.225 -10.8\\ 2.275 -11.0\\ 2.325 -10.6\\ 2.375 -11.0\\ 2.425 -10.2\\ 2.475 -11.2\\
2.525 -11.0\\ 2.575 -10.6\\ 2.625 -10.8\\ 2.675 -10.6\\ 2.725 -11.0\\ 2.775 -12.8\\ 2.825 -13.6\\ 2.875 -13.6\\ 2.925 -14.2\\ 2.975 -15.4\\
3.025 -16.6\\ 3.075 -16.2\\ 3.125 -17.2\\ 3.175 -18.2\\ 3.225 -18.8\\ 3.275 -18.6\\ 3.325 -18.8\\ 3.375 -19.6\\ 3.425 -20.4\\ 3.475 -19.8\\
3.525 -21.0\\ 3.575 -22.0\\ 3.625 -21.6\\ 3.675 -20.4\\ 3.725 -19.4\\ 3.775 -19.6\\ 3.825 -18.2\\ 3.875 -17.0\\ 3.925 -15.0\\ 3.975 -13.6\\
4.025 -12.2\\ 4.075 -11.0\\ 4.125 -11.2\\ 4.175 -11.0\\ 4.225 -10.8\\ 4.275 -10.0\\ 4.325 -10.2\\ 4.375 -9.6\\ 4.425 -9.4\\ 4.475 -9.8\\
4.525 -9.0\\ 4.575 -9.2\\ 4.625 -9.4\\ 4.675 -9.0\\ 4.725 -8.8\\ 4.775 -4.0\\ 4.825 -9.6\\ 4.875 -9.8\\ 4.925 -10.2\\ 4.975 -10.2\\
5.025 -9.2\\ 5.075 -9.4\\ 5.125 -9.6\\ 5.175 -8.6\\ 5.225 -9.0\\ 5.275 -9.2\\ 5.325 -8.2\\ 5.375 -8.4\\ 5.425 -7.6\\ 5.475 -7.8\\
5.525 -7.8\\ 5.575 -6.6\\ 5.625 -5.6\\ 5.675 -5.4\\ 5.725 -7.0\\ 5.775 -9.0\\ 5.825 -8.8\\ 5.875 -9.0\\ 5.925 -9.2\\ 5.975 -9.4\\
6.025 -9.0\\ 6.075 -10.2\\ 6.125 -10.4\\ 6.175 -11.0\\ 6.225 -11.4\\ 6.275 -10.2\\ 6.325 -10.2\\ 6.375 -10.0\\ 6.425 -10.2\\ 6.475 -10.6\\
6.525 -9.8\\ 6.575 -10.2\\ 6.625 -10.2\\ 6.675 -10.4\\ 6.725 -10.6\\ 6.775 -11.0\\ 6.825 -11.0\\ 6.875 -11.2\\ 6.925 -11.6\\ 6.975 -10.8\\
7.025 -11.0\\ 7.075 -11.0\\ 7.125 -9.2\\ 7.175 -7.2\\ 7.225 -6.8\\ 7.275 -6.6\\ 7.325 -6.2\\ 7.375 -7.2\\ 7.425 -7.0\\ 7.475 -6.6\\
7.525 -7.0\\ 7.575 -7.2\\ 7.625 -7.2\\ 7.675 -7.2\\ 7.725 -8.0\\ 7.775 -9.0\\ 7.825 -8.8\\ 7.875 -9.0\\ 7.925 -10.0\\ 7.975 -10.6\\
8.025 -10.4\\ 8.075 -10.8\\ 8.125 -10.8\\ 8.175 -10.0\\ 8.225 -10.2\\ 8.275 -10.4\\ 8.325 -10.6\\ 8.375 -10.6\\ 8.425 -9.8\\ 8.475 -10.0\\
8.525 -11.0\\ 8.575 -10.8\\ 8.625 -9.4\\ 8.675 -8.2\\ 8.725 -8.4\\ 8.775 -8.2\\ 8.825 -6.8\\ 8.875 -5.2\\ 8.925 -5.0\\ 8.975 -5.8\\
9.025 -7.0\\ 9.075 -7.2\\ 9.125 -7.4\\ 9.175 -7.6\\ 9.225 -7.8\\ 9.275 -9.0\\ 9.325 -9.0\\ 9.375 -9.0\\ 9.425 -9.2\\ 9.475 -8.2\\
9.525 -8.0\\ 9.575 -8.0\\ 9.625 -7.8\\ 9.675 -7.4\\ 9.725 -7.2\\ 9.775 -7.2\\ 9.825 -7.0\\ 9.875 -8.0\\ 9.925 -7.6\\ 9.975 -7.4\\
10.025 -7.0\\ 10.075 -6.8\\ 10.125 -6.2\\ 10.175 -5.8\\ 10.225 -5.6\\ 10.275 -5.2\\ 10.325 -6.2\\ 10.375 -5.8\\ 10.425 -5.6\\ 10.475 -5.6\\
10.525 -5.4\\ 10.575 -6.6\\ 10.625 -7.8\\ 10.675 -8.0\\ 10.725 -8.4\\ 10.775 -9.8\\ 10.825 -11.0\\ 10.875 -11.2\\ 10.925 -11.6\\ 10.975 -12.8\\
11.025 -13.8\\ 11.075 -14.6\\ 11.125 -14.6\\ 11.175 -15.0\\ 11.225 -15.2\\ 11.275 -15.4\\ 11.325 -15.6\\ 11.375 -14.8\\ 11.425 -15.0\\ 11.475 -16.0\\
11.525 -15.8\\ 11.575 -14.8\\ 11.625 -15.2\\ 11.675 -16.6\\ 11.725 -16.2\\ 11.775 -16.0\\ 11.825 -15.6\\ 11.875 -15.2\\ 11.925 -15.2\\ 11.975 -15.0\\
12.025 -16.0\\ 12.075 -15.8\\ 12.125 -14.6\\ 12.175 -14.8\\ 12.225 -15.0\\ 12.275 -15.2\\ 12.325 -15.6\\ 12.375 -14.4\\ 12.425 -14.6\\ 12.475 -15.8\\
12.525 -15.6\\ 12.575 -15.2\\ 12.625 -16.4\\ 12.675 -16.6\\ 12.725 -16.8\\ 12.775 -18.0\\ 12.825 -17.8\\ 12.875 -17.6\\ 12.925 -17.4\\ 12.975 -16.8\\
13.025 -16.4\\ 13.075 -16.2\\ 13.125 -16.0\\ 13.175 -14.6\\ 13.225 -13.2\\ 13.275 -13.0\\ 13.325 -11.8\\ 13.375 -11.2\\ 13.425 -12.4\\ 13.475 -12.6\\
13.525 -13.0\\ 13.575 -14.0\\ 13.625 -14.0\\ 13.675 -14.2\\ 13.725 -14.6\\ 13.775 -14.0\\ 13.825 -14.2\\ 13.875 -14.4\\ 13.925 -14.6\\ 13.975 -15.6\\
14.025 -16.4\\ 14.075 -16.2\\ 14.125 -16.6\\ 14.175 -16.8\\ 14.225 -17.0\\ 14.275 -17.2\\ 14.325 -16.2\\ 14.375 -16.4\\ 14.425 -16.8\\ 14.475 -17.0\\
14.525 -17.4\\ 14.575 -16.2\\ 14.625 -15.0\\ 14.675 -15.0\\ 14.725 -14.4\\ 14.775 -14.2\\ 14.825 -14.0\\ 14.875 -13.0\\ 14.925 -13.0\\ 14.975 -13.0\\
15.025 -12.2\\ 15.075 -12.4\\ 15.125 -12.6\\ 15.175 -11.6\\ 15.225 -11.6\\ 15.275 -11.4\\ 15.325 -11.0\\ 15.375 -10.8\\ 15.425 -10.6\\ 15.475 -11.4\\
15.525 -11.6\\ 15.575 -11.8\\ 15.625 -12.0\\ 15.675 -12.0\\ 15.725 -12.0\\ 15.775 -11.8\\ 15.825 -11.6\\ 15.875 -11.4\\ 15.925 -12.4\\ 15.975 -13.0\\
16.025 -12.8\\ 16.075 -12.8\\ 16.125 -12.6\\ 16.175 -12.2\\ 16.225 -11.6\\ 16.275 -10.0\\ 16.325 -9.6\\ 16.375 -9.4\\ 16.425 -9.2\\ 16.475 -9.2\\
16.525 -9.4\\ 16.575 -9.4\\ 16.625 -9.2\\ 16.675 -9.0\\ 16.725 -9.6\\ 16.775 -9.6\\ 16.825 -9.4\\ 16.875 -9.2\\ 16.925 -9.2\\ 16.975 -9.8\\
17.025 -9.6\\ 17.075 -9.8\\ 17.125 -10.0\\ 17.175 -9.8\\ 17.225 -9.8\\ 17.275 -9.6\\ 17.325 -9.4\\ 17.375 -9.2\\ 17.425 -9.0\\ 17.475 -8.8\\
17.525 -8.6\\ 17.575 -8.6\\ 17.625 -8.4\\ 17.675 -8.2\\ 17.725 -8.0\\ 17.775 -7.0\\ 17.825 -5.8\\ 17.875 -5.8\\ 17.925 -5.6\\ 17.975 -4.4\\
18.025 -3.6\\ 18.075 -3.8\\ 18.125 -3.4\\ 18.175 -3.6\\ 18.225 -4.6\\ 18.275 -4.2\\ 18.325 -5.4\\ 18.375 -5.6\\ 18.425 -4.6\\ 18.475 -4.8\\
18.525 -5.0\\ 18.575 -5.4\\ 18.625 -7.6\\ 18.675 -6.8\\ 18.725 -5.8\\ 18.775 -5.6\\ 18.825 -5.0\\ 18.875 -5.0\\ 18.925 -4.4\\ 18.975 -5.6\\
19.025 -5.4\\ 19.075 -5.0\\ 19.125 -5.0\\ 19.175 -5.4\\ 19.225 -6.0\\ 19.275 -4.6\\ 19.325 -4.2\\ 19.375 -4.2\\ 19.425 -4.0\\ 19.475 -4.8\\
19.525 -4.4\\ 19.575 -4.0\\ 19.625 -4.2\\ 19.675 -4.2\\ 19.725 -4.6\\ 19.775 -3.6\\ 19.825 -2.6\\ 19.875 -1.6\\ 19.925 -1.6\\ 19.975 -1.6\\
20.025 -1.4\\ 20.075 -2.2\\ 20.125 -2.0\\ 20.175 -1.8\\ 20.225 -2.6\\ 20.275 -2.8\\ 20.325 -3.0\\ 20.375 -3.2\\ 20.425 -3.4\\ 20.475 -3.6\\
20.525 -2.8\\ 20.575 -2.8\\ 20.625 -3.0\\ 20.675 -2.2\\ 20.725 -2.0\\ 20.775 -1.8\\ 20.825 -1.6\\ 20.875 -1.4\\ 20.925 -1.2\\ 20.975 -1.4\\
21.025 -0.4\\ 21.075 -0.6\\ 21.125 -1.0\\ 21.175 -1.4\\ 21.225 -1.6\\ 21.275 -1.8\\ 21.325 -2.0\\ 21.375 -2.4\\ 21.425 -2.6\\ 21.475 -2.8\\
21.525 -3.0\\ 21.575 -3.2\\ 21.625 -3.4\\ 21.675 -3.6\\ 21.725 -3.8\\ 21.775 -4.0\\ 21.825 -4.2\\ 21.875 -3.2\\ 21.925 -3.4\\ 21.975 -3.6\\
22.025 -3.8\\ 22.075 -4.0\\ 22.125 -3.2\\ 22.175 -3.4\\ 22.225 -4.6\\ 22.275 -4.4\\ 22.325 -4.2\\ 22.375 -5.2\\ 22.425 -4.8\\ 22.475 -3.8\\
22.525 -4.0\\ 22.575 -4.2\\
0.06 4.8\\ 0.16 1.6\\ 0.26 3.4\\ 0.36 1.2\\ 0.46 2.8\\ 0.56 0.2\\ 0.66 1.6\\ 0.76 -1.2\\ 0.86 0.6\\ 0.96 -1.2\\
1.06 0.2\\ 1.16 -2.0\\ 1.26 -1.6\\ 1.36 -4.0\\ 1.46 -2.8\\ 1.56 -5.0\\ 1.66 -4.4\\ 1.76 -8.4\\ 1.86 -8.6\\ 1.96 -13.2\\
2.06 -12.2\\ 2.16 -12.0\\ 2.26 -9.6\\ 2.36 -12.2\\ 2.46 -9.6\\ 2.56 -12.0\\ 2.66 -9.4\\ 2.76 -13.0\\ 2.86 -12.8\\ 2.96 -15.4\\
3.06 -15.8\\ 3.16 -18.6\\ 3.26 -17.8\\ 3.36 -20.0\\ 3.46 -18.6\\ 3.56 -22.6\\ 3.66 -20.0\\ 3.76 -19.8\\ 3.86 -16.6\\ 3.96 -15.2\\
4.06 -10.8\\ 4.16 -12.0\\ 4.26 -9.2\\ 4.36 -11.2\\ 4.46 -8.6\\ 4.56 -10.4\\ 4.66 -8.2\\ 4.76 -5.6\\ 4.86 -11.0\\ 4.96 -8.6\\
5.06 -10.8\\ 5.16 -8.0\\ 5.26 -10.0\\ 5.36 -7.6\\ 5.46 -8.6\\ 5.56 -5.6\\ 5.66 -7.0\\ 5.76 -7.8\\ 5.86 -10.0\\ 5.96 -8.0\\
6.06 -11.6\\ 6.16 -8.6\\ 6.26 -12.4\\ 6.36 -9.0\\ 6.46 -11.8\\ 6.56 -9.0\\ 6.66 -11.4\\ 6.76 -9.6\\ 6.86 -12.4\\ 6.96 -10.0\\
7.06 -12.2\\ 7.16 -7.6\\ 7.26 -5.4\\ 7.36 -8.2\\ 7.46 -5.6\\ 7.56 -8.4\\ 7.66 -6.2\\ 7.76 -9.6\\ 7.86 -7.8\\ 7.96 -11.4\\
8.06 -9.2\\ 8.16 -12.0\\ 8.26 -9.2\\ 8.36 -12.0\\ 8.46 -9.0\\ 8.56 -12.0\\ 8.66 -8.0\\ 8.76 -9.2\\ 8.86 -5.0\\ 8.96 -6.4\\
9.06 -6.6\\ 9.16 -8.8\\ 9.26 -7.4\\ 9.36 -10.0\\ 9.46 -7.8\\ 9.56 -9.2\\ 9.66 -6.6\\ 9.76 -8.6\\ 9.86 -6.2\\ 9.96 -8.4\\
10.06 -5.6\\ 10.16 -7.0\\ 10.26 -4.4\\ 10.36 -7.2\\ 10.46 -4.6\\ 10.56 -7.0\\ 10.66 -7.0\\ 10.76 -10.4\\ 10.86 -10.4\\ 10.96 -13.6\\
11.06 -13.4\\ 11.16 -16.2\\ 11.26 -14.0\\ 11.36 -16.4\\ 11.46 -14.2\\ 11.56 -17.0\\ 11.66 -14.4\\ 11.76 -17.4\\ 11.86 -14.0\\ 11.96 -16.6\\
12.06 -14.2\\ 12.16 -16.8\\ 12.26 -13.6\\ 12.36 -16.8\\ 12.46 -14.0\\ 12.56 -16.8\\ 12.66 -15.6\\ 12.76 -18.6\\ 12.86 -16.0\\ 12.96 -18.0\\
13.06 -14.8\\ 13.16 -16.8\\ 13.26 -11.6\\ 13.36 -12.8\\ 13.46 -11.6\\ 13.56 -14.8\\ 13.66 -13.0\\ 13.76 -15.4\\ 13.86 -13.2\\ 13.96 -16.0\\
14.06 -15.2\\ 14.16 -18.0\\ 14.26 -15.6\\ 14.36 -17.8\\ 14.46 -15.4\\ 14.56 -17.8\\ 14.66 -13.8\\ 14.76 -15.0\\ 14.86 -12.4\\ 14.96 -14.2\\
15.06 -11.2\\ 15.16 -13.2\\ 15.26 -10.4\\ 15.36 -12.2\\ 15.46 -10.0\\ 15.56 -12.6\\ 15.66 -10.8\\ 15.76 -12.8\\ 15.86 -10.4\\ 15.96 -13.6\\
16.06 -11.2\\ 16.16 -13.8\\ 16.26 -10.8\\ 16.36 -10.2\\ 16.46 -8.4\\ 16.56 -10.2\\ 16.66 -8.4\\ 16.76 -10.4\\ 16.86 -8.6\\ 16.96 -10.4\\
17.06 -8.8\\ 17.16 -10.6\\ 17.26 -8.8\\ 17.36 -9.8\\ 17.46 -7.6\\ 17.56 -9.4\\ 17.66 -7.0\\ 17.76 -8.2\\ 17.86 -4.6\\ 17.96 -5.6\\
18.06 -2.6\\ 18.16 -5.2\\ 18.26 -3.0\\ 18.36 -6.4\\ 18.46 -3.6\\ 18.56 -6.2\\ 18.66 -8.4\\ 18.76 -4.0\\ 18.86 -6.4\\ 18.96 -3.6\\
19.06 -6.0\\ 19.16 -3.6\\ 19.26 -6.2\\ 19.36 -3.2\\ 19.46 -5.6\\ 19.56 -3.0\\ 19.66 -5.4\\ 19.76 -3.0\\ 19.86 -1.4\\ 19.96 -0.6\\
20.06 -2.8\\ 20.16 -1.0\\ 20.26 -3.6\\ 20.36 -2.2\\ 20.46 -4.4\\ 20.56 -2.0\\ 20.66 -3.6\\ 20.76 -1.0\\ 20.86 -2.6\\ 20.96 -0.4\\
21.06 -0.8\\ 21.16 0.0\\ 21.26 -2.4\\ 21.36 -1.4\\ 21.46 -3.4\\ 21.56 -2.0\\ 21.66 -4.4\\ 21.76 -2.8\\ 21.86 -4.6\\ 21.96 -2.6\\
22.06 -5.0\\ 22.16 -2.6\\ 22.26 -5.4\\ 22.36 -3.0\\ 22.46 -5.6\\ 22.56 -3.0\\
}\dB

\pgfplotstableread[row sep=\\]{t y\\
0.00 -7.6\\ 0.03 -6.8\\ 0.05 -8.2\\ 0.08 -7.0\\ 0.10 -5.8\\ 0.13 -3.2\\ 0.15 -6.4\\ 0.20 -5.6\\ 0.25 -6.8\\ 0.30 -5.0\\
0.35 -6.2\\ 0.40 -5.4\\ 0.45 -3.2\\ 0.50 -6.0\\ 0.55 -4.8\\ 0.60 -5.8\\ 0.65 -4.6\\ 0.70 -6.4\\ 0.75 -5.2\\ 0.80 -6.6\\
0.85 -4.4\\ 0.90 -5.6\\ 0.95 -4.8\\ 1.00 -4.2\\ 1.05 -1.4\\ 1.10 -3.4\\ 1.15 -4.6\\ 1.20 -3.0\\ 1.25 -4.2\\ 1.30 -5.4\\
1.35 -6.4\\ 1.40 -5.6\\ 1.45 -7.0\\ 1.50 -6.0\\ 1.55 -7.2\\ 1.60 -8.2\\ 1.65 -9.2\\ 1.70 -10.4\\ 1.75 -9.6\\ 1.80 -11.0\\
1.85 -10.2\\ 1.90 -9.4\\ 1.95 -11.4\\ 2.00 -10.6\\ 2.05 -13.6\\ 2.08 -14.6\\ 2.10 -11.6\\ 2.15 -9.6\\ 2.20 -8.4\\ 2.25 -9.2\\
2.30 -7.8\\ 2.35 -9.6\\ 2.40 -8.6\\ 2.45 -10.0\\ 2.50 -9.2\\ 2.55 -10.6\\ 2.60 -9.8\\ 2.65 -11.2\\ 2.70 -10.2\\ 2.75 -10.8\\
2.80 -9.6\\ 2.85 -11.4\\ 2.90 -10.4\\ 2.95 -11.0\\ 3.00 -14.6\\ 3.05 -16.4\\ 3.10 -17.6\\ 3.15 -18.6\\ 3.20 -19.6\\ 3.25 -18.4\\
3.30 -20.4\\ 3.35 -21.2\\ 3.40 -20.6\\ 3.45 -22.0\\ 3.50 -23.0\\ 3.55 -21.6\\ 3.60 -22.2\\ 3.65 -21.0\\ 3.70 -19.8\\ 3.75 -20.4\\
3.80 -18.6\\ 3.85 -19.6\\ 3.90 -18.2\\ 3.95 -19.0\\ 4.00 -17.2\\ 4.05 -16.2\\ 4.10 -15.8\\ 4.15 -14.6\\ 4.20 -13.4\\ 4.25 -14.2\\
4.30 -13.0\\ 4.35 -14.0\\ 4.40 -13.6\\ 4.45 -12.8\\ 4.50 -14.4\\ 4.55 -15.6\\ 4.60 -17.0\\ 4.65 -15.4\\ 4.70 -16.4\\ 4.75 -14.8\\
4.80 -15.8\\ 4.85 -16.8\\ 4.90 -15.2\\ 4.95 -16.2\\ 5.00 -14.4\\ 5.05 -15.4\\ 5.10 -16.6\\ 5.15 -15.2\\ 5.20 -14.2\\ 5.25 -15.8\\
5.30 -14.8\\ 5.35 -16.2\\ 5.40 -15.0\\ 5.45 -14.0\\ 5.50 -18.8\\ 5.55 -15.4\\ 5.60 -14.4\\ 5.65 -15.6\\ 5.70 -14.2\\ 5.75 -15.2\\
5.80 -14.0\\ 5.85 -15.0\\ 5.90 -13.8\\ 5.95 -15.4\\ 6.00 -14.6\\ 6.05 -16.4\\ 6.10 -15.2\\ 6.15 -17.0\\ 6.20 -15.6\\ 6.25 -16.6\\
6.30 -15.0\\ 6.35 -16.2\\ 6.40 -17.6\\ 6.45 -15.8\\ 6.50 -14.8\\ 6.55 -16.0\\ 6.60 -14.8\\ 6.65 -15.6\\ 6.70 -14.2\\ 6.75 -15.4\\
6.80 -16.2\\ 6.85 -14.8\\ 6.90 -15.8\\ 6.95 -14.4\\ 7.00 -15.2\\ 7.05 -16.0\\ 7.10 -14.6\\ 7.15 -13.2\\ 7.20 -12.0\\ 7.25 -12.8\\
7.30 -13.6\\ 7.35 -12.4\\ 7.40 -13.4\\ 7.45 -12.6\\ 7.50 -13.8\\ 7.55 -13.0\\ 7.60 -14.2\\ 7.65 -13.6\\ 7.70 -14.8\\ 7.75 -15.6\\
7.80 -16.4\\ 7.85 -17.2\\ 7.90 -16.4\\ 7.95 -17.8\\ 8.00 -18.4\\ 8.05 -17.6\\ 8.10 -18.8\\ 8.15 -19.6\\ 8.20 -18.4\\ 8.25 -19.2\\
8.30 -18.0\\ 8.35 -19.4\\ 8.40 -18.2\\ 8.45 -17.4\\ 8.50 -18.6\\ 8.55 -19.8\\ 8.60 -18.0\\ 8.65 -17.2\\ 8.70 -16.6\\ 8.75 -17.8\\
8.80 -16.4\\ 8.85 -15.6\\ 8.90 -16.8\\ 8.95 -15.0\\ 9.00 -14.4\\ 9.05 -13.6\\ 9.10 -14.8\\ 9.15 -13.2\\ 9.20 -14.2\\ 9.25 -13.4\\
9.30 -14.6\\ 9.35 -13.8\\ 9.40 -15.0\\ 9.45 -14.0\\ 9.50 -15.4\\ 9.55 -16.4\\ 9.60 -15.0\\ 9.65 -16.2\\ 9.70 -14.8\\ 9.75 -15.8\\
9.80 -16.8\\ 9.85 -15.4\\ 9.90 -17.0\\ 9.95 -16.2\\ 10.00 -17.2\\ 10.05 -15.8\\ 10.10 -15.0\\ 10.15 -16.2\\ 10.20 -14.6\\ 10.25 -15.6\\
10.30 -16.6\\ 10.35 -15.2\\ 10.40 -14.4\\ 10.45 -15.6\\ 10.50 -16.4\\ 10.55 -15.0\\ 10.60 -16.0\\ 10.65 -15.4\\ 10.70 -16.6\\ 10.75 -17.4\\
10.80 -16.6\\ 10.85 -17.8\\ 10.90 -18.6\\ 10.95 -17.2\\ 11.00 -18.2\\ 11.05 -19.0\\ 11.10 -18.0\\ 11.15 -19.4\\ 11.20 -18.6\\ 11.25 -19.8\\
11.30 -18.4\\ 11.35 -20.0\\ 11.40 -19.2\\ 11.45 -18.2\\ 11.50 -19.6\\ 11.55 -18.8\\ 11.60 -20.2\\ 11.65 -19.0\\ 11.70 -18.0\\ 11.75 -19.4\\
11.80 -20.4\\ 11.85 -22.0\\ 11.88 -22.8\\ 11.90 -19.6\\ 11.95 -18.6\\ 12.00 -19.8\\ 12.05 -21.0\\ 12.10 -20.0\\ 12.15 -19.0\\ 12.20 -18.2\\
12.25 -19.4\\ 12.30 -18.4\\ 12.35 -17.6\\ 12.40 -18.8\\ 12.45 -19.6\\ 12.50 -18.2\\ 12.55 -17.4\\ 12.60 -18.6\\ 12.65 -19.2\\ 12.70 -18.0\\
12.75 -17.8\\ 12.80 -18.8\\ 12.85 -17.6\\ 12.90 -18.4\\ 12.95 -17.2\\ 13.00 -16.6\\ 13.05 -17.4\\ 13.10 -16.0\\ 13.15 -15.6\\ 13.20 -14.4\\
13.25 -13.2\\ 13.30 -14.6\\ 13.35 -10.2\\ 13.40 -13.0\\ 13.45 -14.2\\ 13.50 -15.4\\ 13.55 -14.6\\ 13.60 -15.6\\ 13.65 -14.4\\ 13.70 -15.8\\
13.75 -14.8\\ 13.80 -16.0\\ 13.85 -14.6\\ 13.90 -15.4\\ 13.95 -14.2\\ 14.00 -15.0\\ 14.05 -16.2\\ 14.10 -15.0\\ 14.15 -16.8\\ 14.20 -17.6\\
14.25 -16.4\\ 14.30 -17.8\\ 14.35 -16.6\\ 14.40 -15.8\\ 14.45 -17.2\\ 14.50 -16.2\\ 14.55 -17.6\\ 14.60 -16.4\\ 14.65 -15.4\\ 14.70 -14.6\\
14.75 -15.8\\ 14.80 -14.4\\ 14.85 -15.2\\ 14.90 -13.8\\ 14.95 -12.8\\ 15.00 -13.6\\ 15.05 -12.6\\ 15.10 -13.8\\ 15.15 -12.8\\ 15.20 -14.0\\
15.25 -13.0\\ 15.30 -14.8\\ 15.35 -15.8\\ 15.40 -13.4\\ 15.45 -14.4\\ 15.50 -12.8\\ 15.55 -14.6\\ 15.60 -15.8\\ 15.65 -14.4\\ 15.70 -16.0\\
15.75 -17.4\\ 15.80 -15.6\\ 15.85 -16.6\\ 15.90 -14.8\\ 15.95 -15.6\\ 16.00 -14.2\\ 16.05 -13.4\\ 16.10 -14.6\\ 16.15 -13.0\\ 16.20 -13.8\\
16.25 -12.4\\ 16.30 -11.8\\ 16.35 -12.4\\ 16.40 -11.2\\ 16.45 -12.0\\ 16.50 -11.4\\ 16.55 -12.6\\ 16.60 -11.6\\ 16.65 -10.8\\ 16.70 -12.0\\
16.75 -11.2\\ 16.80 -12.2\\ 16.85 -11.6\\ 16.90 -10.8\\ 16.95 -11.8\\ 17.00 -12.4\\ 17.05 -11.4\\ 17.10 -12.6\\ 17.15 -11.8\\ 17.20 -12.8\\
17.25 -12.0\\ 17.30 -13.2\\ 17.35 -12.2\\ 17.40 -13.4\\ 17.45 -12.4\\ 17.50 -11.6\\ 17.55 -12.8\\ 17.60 -10.2\\ 17.65 -9.2\\ 17.70 -8.4\\
17.75 -9.4\\ 17.80 -7.6\\ 17.85 -8.6\\ 17.90 -6.8\\ 17.95 -7.8\\ 18.00 -6.2\\ 18.05 -5.0\\ 18.10 -7.2\\ 18.15 -4.6\\ 18.20 -6.4\\
18.25 -9.8\\ 18.30 -5.4\\ 18.35 -7.6\\ 18.40 -6.2\\ 18.45 -5.2\\ 18.50 -7.0\\ 18.55 -5.8\\ 18.60 -4.8\\ 18.65 -6.6\\ 18.70 -7.6\\
18.75 -5.6\\ 18.80 -6.8\\ 18.85 -5.2\\ 18.90 -6.2\\ 18.95 -7.4\\ 19.00 -5.4\\ 19.05 -6.6\\ 19.10 -7.8\\ 19.15 -5.8\\ 19.20 -6.8\\
19.25 -4.8\\ 19.30 -6.0\\ 19.35 -7.2\\ 19.40 -8.0\\ 19.45 -6.6\\ 19.50 -8.6\\ 19.55 -7.4\\
0.025 -7.2\\ 0.075 -7.6\\ 0.125 -6.2\\ 0.175 -6.0\\ 0.225 -6.2\\ 0.275 -5.6\\ 0.325 -5.6\\ 0.375 -5.8\\ 0.425 -5.0\\ 0.475 -5.4\\
0.525 -5.4\\ 0.575 -5.2\\ 0.625 -5.2\\ 0.675 -5.4\\ 0.725 -5.8\\ 0.775 -5.8\\ 0.825 -5.6\\ 0.875 -5.0\\ 0.925 -5.2\\ 0.975 -4.6\\
1.025 -3.0\\ 1.075 -2.6\\ 1.125 -4.0\\ 1.175 -3.8\\ 1.225 -3.6\\ 1.275 -4.8\\ 1.325 -5.8\\ 1.375 -6.0\\ 1.425 -6.2\\ 1.475 -6.6\\
1.525 -6.6\\ 1.575 -7.6\\ 1.625 -8.6\\ 1.675 -9.8\\ 1.725 -10.0\\ 1.775 -10.2\\ 1.825 -10.6\\ 1.875 -9.8\\ 1.925 -10.4\\ 1.975 -11.0\\
2.025 -12.0\\ 2.075 -12.8\\ 2.125 -10.6\\ 2.175 -9.0\\ 2.225 -8.8\\ 2.275 -8.6\\ 2.325 -8.8\\ 2.375 -9.0\\ 2.425 -9.4\\ 2.475 -9.6\\
2.525 -9.8\\ 2.575 -10.2\\ 2.625 -10.4\\ 2.675 -10.8\\ 2.725 -10.4\\ 2.775 -10.2\\ 2.825 -10.4\\ 2.875 -10.8\\ 2.925 -10.8\\ 2.975 -12.6\\
3.025 -15.6\\ 3.075 -17.0\\ 3.125 -18.0\\ 3.175 -19.2\\ 3.225 -19.0\\ 3.275 -19.6\\ 3.325 -20.8\\ 3.375 -20.8\\ 3.425 -21.4\\ 3.475 -22.6\\
3.525 -22.4\\ 3.575 -21.8\\ 3.625 -21.6\\ 3.675 -20.4\\ 3.725 -20.0\\ 3.775 -19.6\\ 3.825 -19.0\\ 3.875 -18.8\\ 3.925 -18.6\\ 3.975 -18.0\\
4.025 -16.8\\ 4.075 -16.0\\ 4.125 -15.2\\ 4.175 -14.0\\ 4.225 -13.8\\ 4.275 -13.6\\ 4.325 -13.6\\ 4.375 -13.8\\ 4.425 -13.2\\ 4.475 -13.6\\
4.525 -15.0\\ 4.575 -16.2\\ 4.625 -16.2\\ 4.675 -15.8\\ 4.725 -15.6\\ 4.775 -15.4\\ 4.825 -16.2\\ 4.875 -16.0\\ 4.925 -15.6\\ 4.975 -15.2\\
5.025 -15.0\\ 5.075 -16.0\\ 5.125 -15.8\\ 5.175 -14.8\\ 5.225 -15.0\\ 5.275 -15.2\\ 5.325 -15.6\\ 5.375 -15.6\\ 5.425 -14.6\\ 5.475 -15.0\\
5.525 -14.8\\ 5.575 -14.8\\ 5.625 -15.0\\ 5.675 -14.8\\ 5.725 -14.8\\ 5.775 -14.6\\ 5.825 -14.4\\ 5.875 -14.4\\ 5.925 -14.6\\ 5.975 -15.0\\
6.025 -15.6\\ 6.075 -15.8\\ 6.125 -16.0\\ 6.175 -16.2\\ 6.225 -16.0\\ 6.275 -15.8\\ 6.325 -15.6\\ 6.375 -16.8\\ 6.425 -16.6\\ 6.475 -15.4\\
6.525 -15.4\\ 6.575 -15.4\\ 6.625 -15.2\\ 6.675 -14.8\\ 6.725 -14.8\\ 6.775 -15.8\\ 6.825 -15.4\\ 6.875 -15.2\\ 6.925 -15.2\\ 6.975 -14.8\\
7.025 -15.6\\ 7.075 -15.2\\ 7.125 -13.8\\ 7.175 -12.6\\ 7.225 -12.4\\ 7.275 -13.2\\ 7.325 -13.0\\ 7.375 -12.8\\ 7.425 -13.0\\ 7.475 -13.2\\
7.525 -13.4\\ 7.575 -13.6\\ 7.625 -13.8\\ 7.675 -14.2\\ 7.725 -15.2\\ 7.775 -16.0\\ 7.825 -16.8\\ 7.875 -16.8\\ 7.925 -17.0\\ 7.975 -18.0\\
8.025 -18.0\\ 8.075 -18.2\\ 8.125 -19.2\\ 8.175 -19.0\\ 8.225 -18.8\\ 8.275 -18.6\\ 8.325 -18.8\\ 8.375 -18.8\\ 8.425 -17.8\\ 8.475 -18.0\\
8.525 -19.2\\ 8.575 -18.8\\ 8.625 -17.6\\ 8.675 -16.8\\ 8.725 -17.2\\ 8.775 -17.0\\ 8.825 -16.0\\ 8.875 -16.2\\ 8.925 -15.8\\ 8.975 -14.8\\
9.025 -14.0\\ 9.075 -14.2\\ 9.125 -14.0\\ 9.175 -13.8\\ 9.225 -13.8\\ 9.275 -14.0\\ 9.325 -14.2\\ 9.375 -14.4\\ 9.425 -14.6\\ 9.475 -14.8\\
9.525 -15.8\\ 9.575 -15.6\\ 9.625 -15.6\\ 9.675 -15.4\\ 9.725 -15.2\\ 9.775 -16.2\\ 9.825 -16.0\\ 9.875 -16.2\\ 9.925 -16.6\\ 9.975 -16.8\\
10.025 -16.4\\ 10.075 -15.4\\ 10.125 -15.6\\ 10.175 -15.4\\ 10.225 -15.0\\ 10.275 -16.0\\ 10.325 -16.0\\ 10.375 -14.8\\ 10.425 -15.0\\ 10.475 -16.0\\
10.525 -15.6\\ 10.575 -15.6\\ 10.625 -15.6\\ 10.675 -16.0\\ 10.725 -17.0\\ 10.775 -17.0\\ 10.825 -17.2\\ 10.875 -18.2\\ 10.925 -17.8\\ 10.975 -17.6\\
11.025 -18.6\\ 11.075 -18.6\\ 11.125 -18.6\\ 11.175 -19.0\\ 11.225 -19.2\\ 11.275 -19.0\\ 11.325 -19.2\\ 11.375 -19.6\\ 11.425 -18.6\\ 11.475 -18.8\\
11.525 -19.2\\ 11.575 -19.4\\ 11.625 -19.6\\ 11.675 -18.4\\ 11.725 -18.8\\ 11.775 -19.8\\ 11.825 -21.2\\ 11.875 -21.6\\ 11.925 -19.0\\ 11.975 -19.2\\
12.025 -20.4\\ 12.075 -20.6\\ 12.125 -19.6\\ 12.175 -18.6\\ 12.225 -18.8\\ 12.275 -18.8\\ 12.325 -18.0\\ 12.375 -18.2\\ 12.425 -19.2\\ 12.475 -18.8\\
12.525 -17.8\\ 12.575 -18.0\\ 12.625 -18.8\\ 12.675 -18.6\\ 12.725 -17.8\\ 12.775 -18.4\\ 12.825 -18.2\\ 12.875 -18.0\\ 12.925 -17.8\\ 12.975 -17.0\\
13.025 -17.0\\ 13.075 -16.8\\ 13.125 -15.8\\ 13.175 -15.0\\ 13.225 -13.8\\ 13.275 -13.8\\ 13.325 -12.4\\ 13.375 -11.6\\ 13.425 -13.6\\ 13.475 -14.8\\
13.525 -15.0\\ 13.575 -15.0\\ 13.625 -15.0\\ 13.675 -15.0\\ 13.725 -15.4\\ 13.775 -15.4\\ 13.825 -15.2\\ 13.875 -15.0\\ 13.925 -14.8\\ 13.975 -14.6\\
14.025 -15.6\\ 14.075 -15.6\\ 14.125 -15.8\\ 14.175 -17.2\\ 14.225 -17.0\\ 14.275 -17.0\\ 14.325 -17.2\\ 14.375 -16.2\\ 14.425 -16.4\\ 14.475 -16.8\\
14.525 -16.8\\ 14.575 -17.0\\ 14.625 -15.8\\ 14.675 -15.0\\ 14.725 -15.2\\ 14.775 -15.0\\ 14.825 -14.8\\ 14.875 -14.4\\ 14.925 -13.2\\ 14.975 -13.2\\
15.025 -13.0\\ 15.075 -13.2\\ 15.125 -13.2\\ 15.175 -13.4\\ 15.225 -13.4\\ 15.275 -14.0\\ 15.325 -15.2\\ 15.375 -14.6\\ 15.425 -13.8\\ 15.475 -13.6\\
15.525 -13.6\\ 15.575 -15.2\\ 15.625 -15.0\\ 15.675 -15.2\\ 15.725 -16.6\\ 15.775 -16.4\\ 15.825 -16.0\\ 15.875 -15.6\\ 15.925 -15.2\\ 15.975 -14.8\\
16.025 -13.8\\ 16.075 -14.0\\ 16.125 -13.8\\ 16.175 -13.4\\ 16.225 -13.0\\ 16.275 -12.0\\ 16.325 -12.0\\ 16.375 -11.8\\ 16.425 -11.6\\ 16.475 -11.6\\
16.525 -12.0\\ 16.575 -12.0\\ 16.625 -11.2\\ 16.675 -11.4\\ 16.725 -11.6\\ 16.775 -11.6\\ 16.825 -11.8\\ 16.875 -11.2\\ 16.925 -11.2\\ 16.975 -12.0\\
17.025 -11.8\\ 17.075 -12.0\\ 17.125 -12.2\\ 17.175 -12.2\\ 17.225 -12.4\\ 17.275 -12.6\\ 17.325 -12.6\\ 17.375 -12.8\\ 17.425 -12.8\\ 17.475 -12.0\\
17.525 -12.2\\ 17.575 -11.4\\ 17.625 -9.6\\ 17.675 -8.8\\ 17.725 -8.8\\ 17.775 -8.4\\ 17.825 -8.0\\ 17.875 -7.6\\ 17.925 -7.2\\ 17.975 -7.0\\
18.025 -5.6\\ 18.075 -6.0\\ 18.125 -5.8\\ 18.175 -5.4\\ 18.225 -8.0\\ 18.275 -7.6\\ 18.325 -6.4\\ 18.375 -6.8\\ 18.425 -5.8\\ 18.475 -6.2\\
18.525 -6.4\\ 18.575 -5.4\\ 18.625 -5.6\\ 18.675 -7.0\\ 18.725 -6.6\\ 18.775 -6.2\\ 18.825 -6.0\\ 18.875 -5.6\\ 18.925 -6.8\\ 18.975 -6.4\\
19.025 -6.0\\ 19.075 -7.2\\ 19.125 -6.8\\ 19.175 -6.2\\ 19.225 -5.8\\ 19.275 -5.4\\ 19.325 -6.6\\ 19.375 -7.6\\ 19.425 -7.2\\ 19.475 -7.6\\
19.525 -8.0\\ 19.575 -6.8\\
0.06 -8.6\\ 0.16 -5.0\\ 0.26 -7.4\\ 0.36 -4.6\\ 0.46 -6.4\\ 0.56 -4.2\\ 0.66 -6.8\\ 0.76 -4.2\\ 0.86 -7.0\\ 0.96 -3.8\\
1.06 -4.8\\ 1.16 -2.4\\ 1.26 -5.0\\ 1.36 -5.0\\ 1.46 -7.6\\ 1.56 -6.4\\ 1.66 -10.2\\ 1.76 -8.8\\ 1.86 -11.6\\ 1.96 -9.2\\
2.06 -12.2\\ 2.16 -8.2\\ 2.26 -10.2\\ 2.36 -8.0\\ 2.46 -10.8\\ 2.56 -8.8\\ 2.66 -11.8\\ 2.76 -9.4\\ 2.86 -11.8\\ 2.96 -10.0\\
3.06 -15.4\\ 3.16 -17.8\\ 3.26 -20.4\\ 3.36 -19.8\\ 3.46 -22.8\\ 3.56 -20.6\\ 3.66 -22.4\\ 3.76 -18.8\\ 3.86 -20.4\\ 3.96 -17.6\\
4.06 -17.4\\ 4.16 -13.6\\ 4.26 -14.8\\ 4.36 -12.4\\ 4.46 -14.8\\ 4.56 -14.6\\ 4.66 -17.2\\ 4.76 -14.2\\ 4.86 -17.0\\ 4.96 -14.0\\
5.06 -16.8\\ 5.16 -14.0\\ 5.26 -16.6\\ 5.36 -14.2\\ 5.46 -16.4\\ 5.56 -13.8\\ 5.66 -16.2\\ 5.76 -13.6\\ 5.86 -15.8\\ 5.96 -13.8\\
6.06 -17.4\\ 6.16 -14.6\\ 6.26 -17.2\\ 6.36 -14.4\\ 6.46 -16.8\\ 6.56 -14.2\\ 6.66 -16.4\\ 6.76 -13.8\\ 6.86 -16.6\\ 6.96 -14.0\\
7.06 -16.6\\ 7.16 -12.0\\ 7.26 -13.8\\ 7.36 -11.6\\ 7.46 -14.0\\ 7.56 -12.2\\ 7.66 -15.0\\ 7.76 -14.6\\ 7.86 -17.8\\ 7.96 -16.8\\
8.06 -19.2\\ 8.16 -17.4\\ 8.26 -20.2\\ 8.36 -17.2\\ 8.46 -19.6\\ 8.56 -17.4\\ 8.66 -18.0\\ 8.76 -16.0\\ 8.86 -17.2\\ 8.96 -14.2\\
9.06 -15.2\\ 9.16 -12.8\\ 9.26 -15.0\\ 9.36 -13.0\\ 9.46 -15.8\\ 9.56 -14.4\\ 9.66 -17.0\\ 9.76 -14.6\\ 9.86 -17.4\\ 9.96 -15.4\\
10.06 -16.8\\ 10.16 -14.2\\ 10.26 -16.8\\ 10.36 -14.0\\ 10.46 -16.8\\ 10.56 -14.4\\ 10.66 -16.8\\ 10.76 -16.2\\ 10.86 -18.6\\ 10.96 -16.6\\
11.06 -19.8\\ 11.16 -17.6\\ 11.26 -20.4\\ 11.36 -17.8\\ 11.46 -20.2\\ 11.56 -18.0\\ 11.66 -20.4\\ 11.76 -18.2\\ 11.86 -21.6\\ 11.96 -18.0\\
12.06 -21.4\\ 12.16 -17.8\\ 12.26 -20.0\\ 12.36 -17.0\\ 12.46 -19.8\\ 12.56 -17.0\\ 12.66 -19.6\\ 12.76 -17.2\\ 12.86 -19.2\\ 12.96 -16.6\\
13.06 -17.8\\ 13.16 -14.8\\ 13.26 -14.0\\ 13.36 -11.4\\ 13.46 -15.6\\ 13.56 -14.0\\ 13.66 -16.2\\ 13.76 -14.0\\ 13.86 -16.2\\ 13.96 -13.8\\
14.06 -16.8\\ 14.16 -15.4\\ 14.26 -18.0\\ 14.36 -15.6\\ 14.46 -18.0\\ 14.56 -15.6\\ 14.66 -16.2\\ 14.76 -14.0\\ 14.86 -15.8\\ 14.96 -12.2\\
15.06 -14.2\\ 15.16 -12.2\\ 15.26 -14.4\\ 15.36 -13.0\\ 15.46 -15.2\\ 15.56 -13.6\\ 15.66 -16.6\\ 15.76 -15.0\\ 15.86 -17.6\\ 15.96 -14.0\\
16.06 -15.2\\ 16.16 -12.6\\ 16.26 -13.0\\ 16.36 -10.8\\ 16.46 -12.8\\ 16.56 -10.8\\ 16.66 -12.6\\ 16.76 -10.6\\ 16.86 -12.6\\ 16.96 -11.0\\
17.06 -13.0\\ 17.16 -11.2\\ 17.26 -13.6\\ 17.36 -11.4\\ 17.46 -13.4\\ 17.56 -11.0\\ 17.66 -10.0\\ 17.76 -8.0\\ 17.86 -9.2\\ 17.96 -6.0\\
18.06 -7.6\\ 18.16 -4.2\\ 18.26 -6.8\\ 18.36 -4.8\\ 18.46 -7.4\\ 18.56 -4.6\\ 18.66 -7.8\\ 18.76 -5.0\\ 18.86 -7.6\\ 18.96 -5.0\\
19.06 -7.8\\ 19.16 -5.0\\ 19.26 -8.0\\ 19.36 -5.6\\ 19.46 -8.4\\ 19.56 -6.4\\
19.60 0\\ 19.625 0\\ 19.65 0\\ 19.675 0\\ 19.70 0\\ 19.725 0\\ 19.75 0\\ 19.775 0\\ 19.80 0\\ 19.825 0\\
19.85 0\\ 19.875 0\\ 19.90 0\\ 19.925 0\\ 19.95 0\\ 19.975 0\\ 20.00 0\\ 20.025 0\\ 20.05 0\\ 20.075 0\\
20.10 0\\ 20.125 0\\ 20.15 0\\ 20.175 0\\ 20.20 0\\ 20.225 0\\ 20.25 0\\ 20.275 0\\ 20.30 0\\ 20.325 0\\
20.35 0\\ 20.375 0\\ 20.40 0\\ 20.425 0\\ 20.45 0\\ 20.475 0\\ 20.50 0\\ 20.525 0\\ 20.55 0\\ 20.575 0\\
20.60 0\\ 20.625 0\\ 20.65 0\\ 20.675 0\\ 20.70 0\\ 20.725 0\\ 20.75 0\\ 20.775 0\\ 20.80 0\\ 20.825 0\\
20.85 0\\ 20.875 0\\ 20.90 0\\ 20.925 0\\ 20.95 0\\ 20.975 0\\ 21.00 0\\ 21.025 0\\ 21.05 0\\ 21.075 0\\
21.10 0\\ 21.125 0\\ 21.15 0\\ 21.175 0\\ 21.20 0\\ 21.225 0\\ 21.25 0\\ 21.275 0\\ 21.30 0\\ 21.325 0\\
21.35 0\\ 21.375 0\\ 21.40 0\\ 21.425 0\\ 21.45 0\\ 21.475 0\\ 21.50 0\\ 21.525 0\\ 21.55 0\\ 21.575 0\\
21.60 0\\ 21.625 0\\ 21.65 0\\ 21.675 0\\ 21.70 0\\ 21.725 0\\ 21.75 0\\ 21.775 0\\ 21.80 0\\ 21.825 0\\
21.85 0\\ 21.875 0\\ 21.90 0\\ 21.925 0\\ 21.95 0\\ 21.975 0\\ 22.00 0\\ 22.025 0\\ 22.05 0\\ 22.075 0\\
22.10 0\\ 22.125 0\\ 22.15 0\\ 22.175 0\\ 22.20 0\\ 22.225 0\\ 22.25 0\\ 22.275 0\\ 22.30 0\\ 22.325 0\\
22.35 0\\ 22.375 0\\ 22.40 0\\ 22.425 0\\ 22.45 0\\ 22.475 0\\ 22.50 0\\ 22.525 0\\ 22.55 0\\ 22.575 0\\
22.60 0\\ 22.625 0\\ 22.65 0\\ 22.675 0\\ 22.70 0\\ 22.725 0\\ 22.75 0\\ 22.775 0\\ 22.80 0\\ 22.825 0\\
22.85 0\\ 22.875 0\\ 22.90 0\\ 22.925 0\\ 22.95 0\\ 22.975 0\\ 23.00 0\\ 23.025 0\\ 23.05 0\\ 23.075 0\\
23.10 0\\ 23.125 0\\ 23.15 0\\ 23.175 0\\ 23.20 0\\ 23.225 0\\ 23.25 0\\ 23.275 0\\ 23.30 0\\ 23.325 0\\
23.35 0\\ 23.375 0\\ 23.40 0\\ 23.425 0\\ 23.45 0\\ 23.475 0\\ 23.50 0\\ 23.525 0\\ 23.55 0\\ 23.575 0\\
23.60 0\\ 23.625 0\\ 23.65 0\\ 23.675 0\\ 23.70 0\\ 23.725 0\\ 23.75 0\\ 23.775 0\\ 23.80 0\\ 23.825 0\\
23.85 0\\ 23.875 0\\ 23.90 0\\ 23.925 0\\ 23.95 0\\ 23.975 0\\ 24.00 0\\ 24.025 0\\ 24.05 0\\ 24.075 0\\
24.10 0\\ 24.125 0\\ 24.15 0\\ 24.175 0\\ 24.20 0\\ 24.225 0\\ 24.25 0\\ 24.275 0\\ 24.30 0\\ 24.325 0\\
24.35 0\\ 24.375 0\\ 24.40 0\\ 24.425 0\\ 24.45 0\\ 24.475 0\\ 24.50 0\\ 24.525 0\\ 24.55 0\\ 24.575 0\\
24.60 0\\ 24.625 0\\ 24.65 0\\ 24.675 0\\ 24.70 0\\ 24.725 0\\ 24.75 0\\ 24.775 0\\ 24.80 0\\ 24.825 0\\
24.85 0\\ 24.875 0\\ 24.90 0\\ 24.925 0\\ 24.95 0\\ 24.975 0\\ 25.00 0\\ 25.025 0\\ 25.05 0\\ 25.075 0\\
25.10 0\\ 25.125 0\\ 25.15 0\\ 25.175 0\\ 25.20 0\\ 25.225 0\\ 25.25 0\\ 25.275 0\\ 25.30 0\\ 25.325 0\\
25.35 0\\ 25.375 0\\ 25.40 0\\ 25.425 0\\ 25.45 0\\ 25.475 0\\ 25.50 0\\ 25.525 0\\ 25.55 0\\ 25.575 0\\
25.60 0\\ 25.625 0\\ 25.65 0\\ 25.675 0\\ 25.70 0\\ 25.725 0\\ 25.75 0\\ 25.775 0\\ 25.80 0\\ 25.825 0\\
25.85 0\\ 25.875 0\\ 25.90 0\\ 25.925 0\\ 25.95 0\\ 25.975 0\\ 26.00 0\\
}\dC

\begin{document}
\begin{tikzpicture}[x=1pt,y=1pt]
\fill[white] (0,0) rectangle (1108,551);
\fill[banner] (0,523.5) rectangle (1108,551);
\draw[color=gray!70, line width=0.6pt] (0,550.7) -- (1108,550.7);
\draw[color=gridgray, line width=0.8pt] (0,522.3) -- (1108,522.3);
\draw[color=gridgray, line width=0.8pt] (1100.5,522) -- (1100.5,5.5);
\draw[color=gridgray, line width=0.8pt] (0,5.5) -- (1100.5,5.5);
\draw[color=gray!60, line width=0.8pt] (0,0.5) -- (1108,0.5);

\begin{axis}[
  at={(48.75pt,32pt)}, anchor=south west,
  scale only axis, width=1021.25pt, height=466.5pt,
  xmin=0, xmax=26, ymin=-25, ymax=20,
  xtick={0,2,...,24},
  xticklabels={\tl{01/01/1997},\tl{01/01/1999},\tl{01/01/2001},\tl{01/01/2003},\tl{01/01/2005},\tl{01/01/2007},\tl{01/01/2009},\tl{01/01/2011},\tl{01/01/2013},\tl{01/01/2015},\tl{01/01/2017},\tl{01/01/2019},\tl{01/01/2021}},
  ytick={-25,-20,...,20},
  yticklabels={\tl{- 25\%},\tl{- 20\%},\tl{- 15\%},\tl{- 10\%},\tl{- 5\%},\tl{0\%},\tl{5\%},\tl{10\%},\tl{15\%},\tl{20\%}},
  major tick length=0pt,
  grid=major,
  major grid style={color=gridgray, line width=0.75pt},
  axis line style={draw=none},
  ticklabel style={font=\fontsize{11}{13}\selectfont, text=txtgray},
  xticklabel style={anchor=center, yshift=-17.5pt},
  yticklabel style={anchor=east, inner xsep=0pt, xshift=-9.75pt},
  clip=false,
  legend image code/.code={\draw[mark repeat=2,mark phase=2,#1] plot coordinates {(0pt,0pt) (12.25pt,0pt) (24.5pt,0pt)};},
  legend cell align=left,
  legend style={at={(0.8394,0.9057)}, anchor=north west, draw=none, fill=white,
    inner xsep=17pt, inner ysep=9pt, row sep=18pt,
    font=\fontsize{15}{18}\selectfont, text=txtgray,
    nodes={inner sep=0pt, text height=10.5pt, text depth=3.5pt},
    /tikz/every even column/.append style={column sep=1.5pt}},
]
\addplot[forget plot, color=axgray, line width=1pt] coordinates {(0,-25) (26,-25)};
\addplot[forget plot, color=axgray, line width=1pt] coordinates {(0,-17.5) (26,-17.5)};
\addplot[forget plot, color=black, line width=2.75pt] coordinates {(0,0) (19.6,0)};
\addplot[only marks, mark=+, color=ygold, mark size=2.75pt, mark options={line width=0.55pt}] table[x=t,y=y] {\dA};
\addlegendentry{Rendement\_A04}
\addplot[only marks, mark=+, color=xblue, mark size=2.4pt, mark options={line width=1pt}] table[x=t,y=y] {\dB};
\addlegendentry{Rendement\_A07}
\addplot[only marks, mark=+, color=xred, mark size=2.4pt, mark options={line width=1pt}] table[x=t,y=y] {\dC};
\addlegendentry{Rendement\_A10}
\addlegendimage{black, line width=3pt}
\addlegendentry{0,0\%}
\end{axis}

% chart title box (covers the top gridlines)
\fill[white] (118.5,445.5) rectangle (984,512);
\node[text=txtgray, font=\bfseries, inner sep=0pt] at (551.5,499.5) {\scalebox{1}[1.2]{\resizebox{858pt}{!}{Performance par rapport à l'indice MSCI ACWI INDEX GROSS TR\ \ du placement iShares World Equity Index Fund Matla Acc en fonction de la date}}};
\node[text=txtgray, font=\bfseries, inner sep=0pt] at (551.5,477.5) {\scalebox{1}[1.2]{\resizebox{153pt}{!}{de début pour des durées}}};
\node[text=txtgray, font=\bfseries, inner sep=0pt] at (552.2,457) {\scalebox{1}[1.2]{\resizebox{524.5pt}{!}{entre 4 (A04) et 10 ans (A10). Cotations entre janv. 1997 et juil. 2026. Revenus CAPITALIS}}};

% banner title
\node[text=black, font=\bfseries, inner sep=0pt] at (535.75,537) {\scalebox{1}[1.3]{\resizebox{1036.5pt}{!}{ADAM Informe. Evolution historique des performances en euros pour des détentions de 4 ans (A04) à 10 ans (A10) avec les revenus connus capitalisés}}};

% selection handles
\fill[ygold] (1097.5,516) rectangle (1108,525);
\fill[ygold] (1097.5,0.5) rectangle (1108,32.5);
\fill[ygold] (0,0.5) rectangle (11.5,4);
\fill[ygold] (0,522.5) rectangle (11.5,525);
\end{tikzpicture}
\end{document}
